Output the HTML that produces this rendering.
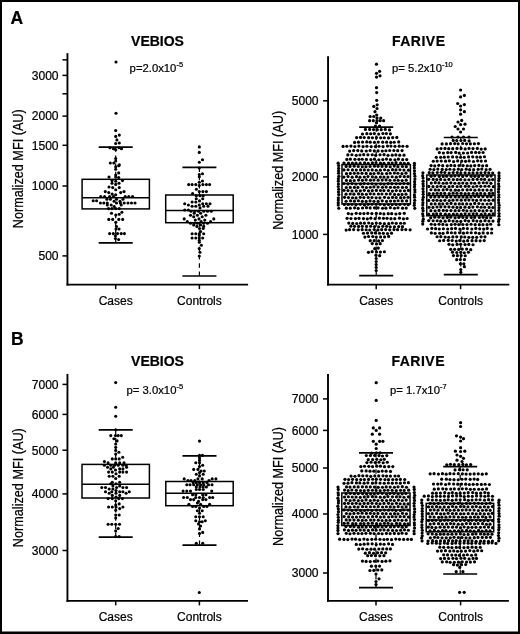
<!DOCTYPE html>
<html><head><meta charset="utf-8"><title>Figure</title><style>html,body{margin:0;padding:0;background:#fff;}body{width:520px;height:634px;overflow:hidden;font-family:"Liberation Sans",sans-serif;}svg{display:block;filter:blur(0.35px);}text{stroke:#000;stroke-width:0.22px;}</style></head><body>
<svg width="520" height="634" viewBox="0 0 520 634">
<rect x="0" y="0" width="520" height="634" fill="#fff"/>
<g font-family="Liberation Sans, sans-serif" fill="#000">
<text x="10.6" y="24.3" font-size="17.5" text-anchor="start" font-weight="bold">A</text>
<text x="10.9" y="344.8" font-size="17.5" text-anchor="start" font-weight="bold">B</text>
<line x1="67.45" y1="53.2" x2="67.45" y2="285.55" stroke="#000" stroke-width="1.9"/>
<line x1="66.5" y1="284.6" x2="248.1" y2="284.6" stroke="#000" stroke-width="1.9"/>
<line x1="62.45" y1="75.4" x2="67.45" y2="75.4" stroke="#000" stroke-width="1.5"/>
<text x="58.6" y="79.7" font-size="12.1" text-anchor="end" font-weight="normal">3000</text>
<line x1="62.45" y1="116.1" x2="67.45" y2="116.1" stroke="#000" stroke-width="1.5"/>
<text x="58.6" y="120.4" font-size="12.1" text-anchor="end" font-weight="normal">2000</text>
<line x1="62.45" y1="145.3" x2="67.45" y2="145.3" stroke="#000" stroke-width="1.5"/>
<text x="58.6" y="149.6" font-size="12.1" text-anchor="end" font-weight="normal">1500</text>
<line x1="62.45" y1="186" x2="67.45" y2="186" stroke="#000" stroke-width="1.5"/>
<text x="58.6" y="190.3" font-size="12.1" text-anchor="end" font-weight="normal">1000</text>
<line x1="62.45" y1="255.9" x2="67.45" y2="255.9" stroke="#000" stroke-width="1.5"/>
<text x="58.6" y="260.2" font-size="12.1" text-anchor="end" font-weight="normal">500</text>
<line x1="62.45" y1="59.85" x2="67.45" y2="59.85" stroke="#000" stroke-width="1.5"/>
<line x1="62.45" y1="93.8" x2="67.45" y2="93.8" stroke="#000" stroke-width="1.5"/>
<line x1="115.7" y1="284.6" x2="115.7" y2="289.1" stroke="#000" stroke-width="1.5"/>
<line x1="199.4" y1="284.6" x2="199.4" y2="289.1" stroke="#000" stroke-width="1.5"/>
<text x="115.7" y="304.6" font-size="12" text-anchor="middle" font-weight="normal">Cases</text>
<text x="199.4" y="304.6" font-size="12" text-anchor="middle" font-weight="normal">Controls</text>
<text x="157.5" y="45.8" font-size="14" text-anchor="middle" font-weight="bold">VEBIOS</text>
<text transform="translate(22.9 168.75) rotate(-90) scale(0.905 1)" font-size="14" text-anchor="middle">Normalized MFI (AU)</text>
<text x="129.6" y="71.9" font-size="11.3">p=2.0x10<tspan font-size="7.46" dy="-5.2">-5</tspan></text>
<line x1="328.05" y1="56.2" x2="328.05" y2="285.6" stroke="#000" stroke-width="1.9"/>
<line x1="327.1" y1="284.65" x2="509.3" y2="284.65" stroke="#000" stroke-width="1.9"/>
<line x1="323.05" y1="100.8" x2="328.05" y2="100.8" stroke="#000" stroke-width="1.5"/>
<text x="318.6" y="105.1" font-size="12.1" text-anchor="end" font-weight="normal">5000</text>
<line x1="323.05" y1="176.9" x2="328.05" y2="176.9" stroke="#000" stroke-width="1.5"/>
<text x="318.6" y="181.2" font-size="12.1" text-anchor="end" font-weight="normal">2000</text>
<line x1="323.05" y1="234.4" x2="328.05" y2="234.4" stroke="#000" stroke-width="1.5"/>
<text x="318.6" y="238.7" font-size="12.1" text-anchor="end" font-weight="normal">1000</text>
<line x1="376.2" y1="284.65" x2="376.2" y2="289.15" stroke="#000" stroke-width="1.5"/>
<line x1="460.6" y1="284.65" x2="460.6" y2="289.15" stroke="#000" stroke-width="1.5"/>
<text x="376.2" y="304.6" font-size="12" text-anchor="middle" font-weight="normal">Cases</text>
<text x="460.6" y="304.6" font-size="12" text-anchor="middle" font-weight="normal">Controls</text>
<text x="418.75" y="45.8" font-size="14" text-anchor="middle" font-weight="bold" letter-spacing="0.5">FARIVE</text>
<text transform="translate(283.3 170.35) rotate(-90) scale(0.905 1)" font-size="14" text-anchor="middle">Normalized MFI (AU)</text>
<text x="392" y="72.2" font-size="11.3">p= 5.2x10<tspan font-size="7.46" dy="-5.2">-10</tspan></text>
<line x1="67.45" y1="373.9" x2="67.45" y2="601.85" stroke="#000" stroke-width="1.9"/>
<line x1="66.5" y1="600.9" x2="248" y2="600.9" stroke="#000" stroke-width="1.9"/>
<line x1="62.45" y1="384.4" x2="67.45" y2="384.4" stroke="#000" stroke-width="1.5"/>
<text x="58.6" y="388.7" font-size="12.1" text-anchor="end" font-weight="normal">7000</text>
<line x1="62.45" y1="414.4" x2="67.45" y2="414.4" stroke="#000" stroke-width="1.5"/>
<text x="58.6" y="418.7" font-size="12.1" text-anchor="end" font-weight="normal">6000</text>
<line x1="62.45" y1="450.2" x2="67.45" y2="450.2" stroke="#000" stroke-width="1.5"/>
<text x="58.6" y="454.5" font-size="12.1" text-anchor="end" font-weight="normal">5000</text>
<line x1="62.45" y1="493.9" x2="67.45" y2="493.9" stroke="#000" stroke-width="1.5"/>
<text x="58.6" y="498.2" font-size="12.1" text-anchor="end" font-weight="normal">4000</text>
<line x1="62.45" y1="550.5" x2="67.45" y2="550.5" stroke="#000" stroke-width="1.5"/>
<text x="58.6" y="554.8" font-size="12.1" text-anchor="end" font-weight="normal">3000</text>
<line x1="115.7" y1="600.9" x2="115.7" y2="605.4" stroke="#000" stroke-width="1.5"/>
<line x1="199.4" y1="600.9" x2="199.4" y2="605.4" stroke="#000" stroke-width="1.5"/>
<text x="115.7" y="620.6" font-size="12" text-anchor="middle" font-weight="normal">Cases</text>
<text x="199.4" y="620.6" font-size="12" text-anchor="middle" font-weight="normal">Controls</text>
<text x="157.5" y="366.4" font-size="14" text-anchor="middle" font-weight="bold">VEBIOS</text>
<text transform="translate(22.9 487.7) rotate(-90) scale(0.905 1)" font-size="14" text-anchor="middle">Normalized MFI (AU)</text>
<text x="126.5" y="394" font-size="11.3">p= 3.0x10<tspan font-size="7.46" dy="-5.2">-5</tspan></text>
<line x1="328" y1="374" x2="328" y2="601.85" stroke="#000" stroke-width="1.9"/>
<line x1="327.05" y1="600.9" x2="508.9" y2="600.9" stroke="#000" stroke-width="1.9"/>
<line x1="323" y1="398.9" x2="328" y2="398.9" stroke="#000" stroke-width="1.5"/>
<text x="318.6" y="403.2" font-size="12.1" text-anchor="end" font-weight="normal">7000</text>
<line x1="323" y1="430.4" x2="328" y2="430.4" stroke="#000" stroke-width="1.5"/>
<text x="318.6" y="434.7" font-size="12.1" text-anchor="end" font-weight="normal">6000</text>
<line x1="323" y1="468" x2="328" y2="468" stroke="#000" stroke-width="1.5"/>
<text x="318.6" y="472.3" font-size="12.1" text-anchor="end" font-weight="normal">5000</text>
<line x1="323" y1="514" x2="328" y2="514" stroke="#000" stroke-width="1.5"/>
<text x="318.6" y="518.3" font-size="12.1" text-anchor="end" font-weight="normal">4000</text>
<line x1="323" y1="573" x2="328" y2="573" stroke="#000" stroke-width="1.5"/>
<text x="318.6" y="577.3" font-size="12.1" text-anchor="end" font-weight="normal">3000</text>
<line x1="376" y1="600.9" x2="376" y2="605.4" stroke="#000" stroke-width="1.5"/>
<line x1="460.6" y1="600.9" x2="460.6" y2="605.4" stroke="#000" stroke-width="1.5"/>
<text x="376" y="620.6" font-size="12" text-anchor="middle" font-weight="normal">Cases</text>
<text x="460.6" y="620.6" font-size="12" text-anchor="middle" font-weight="normal">Controls</text>
<text x="418.25" y="366.3" font-size="14" text-anchor="middle" font-weight="bold" letter-spacing="0.5">FARIVE</text>
<text transform="translate(283.3 486.55) rotate(-90) scale(0.905 1)" font-size="14" text-anchor="middle">Normalized MFI (AU)</text>
<text x="390" y="394" font-size="11.3">p= 1.7x10<tspan font-size="7.46" dy="-5.2">-7</tspan></text>
<line x1="115.7" y1="147.2" x2="115.7" y2="179.3" stroke="#000" stroke-width="1.2" stroke-dasharray="4.6 3.6"/>
<line x1="115.7" y1="242.9" x2="115.7" y2="208.9" stroke="#000" stroke-width="1.2" stroke-dasharray="4.6 3.6"/>
<line x1="199.4" y1="167.4" x2="199.4" y2="195" stroke="#000" stroke-width="1.2" stroke-dasharray="4.6 3.6"/>
<line x1="199.4" y1="276" x2="199.4" y2="222.7" stroke="#000" stroke-width="1.2" stroke-dasharray="4.6 3.6"/>
<line x1="376.2" y1="127.2" x2="376.2" y2="164.6" stroke="#000" stroke-width="1.2" stroke-dasharray="4.6 3.6"/>
<line x1="376.2" y1="275.6" x2="376.2" y2="204" stroke="#000" stroke-width="1.2" stroke-dasharray="4.6 3.6"/>
<line x1="460.8" y1="137.5" x2="460.8" y2="175" stroke="#000" stroke-width="1.2" stroke-dasharray="4.6 3.6"/>
<line x1="460.8" y1="274.6" x2="460.8" y2="215.8" stroke="#000" stroke-width="1.2" stroke-dasharray="4.6 3.6"/>
<line x1="115.7" y1="429.8" x2="115.7" y2="464.4" stroke="#000" stroke-width="1.2" stroke-dasharray="4.6 3.6"/>
<line x1="115.7" y1="537.2" x2="115.7" y2="498" stroke="#000" stroke-width="1.2" stroke-dasharray="4.6 3.6"/>
<line x1="199.5" y1="455.8" x2="199.5" y2="481.5" stroke="#000" stroke-width="1.2" stroke-dasharray="4.6 3.6"/>
<line x1="199.5" y1="545.1" x2="199.5" y2="505.7" stroke="#000" stroke-width="1.2" stroke-dasharray="4.6 3.6"/>
<line x1="376" y1="452.8" x2="376" y2="493" stroke="#000" stroke-width="1.2" stroke-dasharray="4.6 3.6"/>
<line x1="376" y1="587.6" x2="376" y2="525.5" stroke="#000" stroke-width="1.2" stroke-dasharray="4.6 3.6"/>
<line x1="460.2" y1="466.6" x2="460.2" y2="503.4" stroke="#000" stroke-width="1.2" stroke-dasharray="4.6 3.6"/>
<line x1="460.2" y1="574" x2="460.2" y2="531.8" stroke="#000" stroke-width="1.2" stroke-dasharray="4.6 3.6"/>
<g>
<circle cx="116" cy="62" r="1.55"/>
<circle cx="116" cy="113.3" r="1.55"/>
<circle cx="115.7" cy="130.6" r="1.55"/>
<circle cx="119.3" cy="135.1" r="1.55"/>
<circle cx="115.7" cy="136.4" r="1.55"/>
<circle cx="116.9" cy="139.9" r="1.55"/>
<circle cx="119.3" cy="143" r="1.55"/>
<circle cx="115.7" cy="143.5" r="1.55"/>
<circle cx="110" cy="147.8" r="1.55"/>
<circle cx="119" cy="147.8" r="1.55"/>
<circle cx="113.5" cy="148.8" r="1.55"/>
<circle cx="121.5" cy="148.8" r="1.55"/>
<circle cx="115.7" cy="149.8" r="1.55"/>
<circle cx="115.7" cy="158.6" r="1.55"/>
<circle cx="115.7" cy="161" r="1.55"/>
<circle cx="110.3" cy="163" r="1.55"/>
<circle cx="113.8" cy="163" r="1.55"/>
<circle cx="119.3" cy="164.9" r="1.55"/>
<circle cx="118.7" cy="165.8" r="1.55"/>
<circle cx="115.7" cy="166.8" r="1.55"/>
<circle cx="115.7" cy="169.2" r="1.55"/>
<circle cx="118.7" cy="172.9" r="1.55"/>
<circle cx="115.7" cy="175" r="1.55"/>
<circle cx="109" cy="177" r="1.55"/>
<circle cx="115.7" cy="177" r="1.55"/>
<circle cx="118.7" cy="177.6" r="1.55"/>
<circle cx="112" cy="180.6" r="1.55"/>
<circle cx="122.5" cy="180.6" r="1.55"/>
<circle cx="115.7" cy="181.2" r="1.55"/>
<circle cx="112" cy="183.2" r="1.55"/>
<circle cx="119" cy="183.2" r="1.55"/>
<circle cx="115.7" cy="184.4" r="1.55"/>
<circle cx="109" cy="187" r="1.55"/>
<circle cx="112.7" cy="187.6" r="1.55"/>
<circle cx="119.3" cy="187.6" r="1.55"/>
<circle cx="115.7" cy="189.7" r="1.55"/>
<circle cx="105.3" cy="191.6" r="1.55"/>
<circle cx="124" cy="191.6" r="1.55"/>
<circle cx="108.8" cy="192.6" r="1.55"/>
<circle cx="120.7" cy="192.6" r="1.55"/>
<circle cx="112.2" cy="194.1" r="1.55"/>
<circle cx="115.7" cy="194.8" r="1.55"/>
<circle cx="100.8" cy="196.5" r="1.55"/>
<circle cx="104.6" cy="196.5" r="1.55"/>
<circle cx="109.6" cy="196.5" r="1.55"/>
<circle cx="113.5" cy="196.5" r="1.55"/>
<circle cx="125.2" cy="196.5" r="1.55"/>
<circle cx="128.8" cy="196.5" r="1.55"/>
<circle cx="132.6" cy="196.5" r="1.55"/>
<circle cx="106.9" cy="199.2" r="1.55"/>
<circle cx="110.4" cy="199.2" r="1.55"/>
<circle cx="116.5" cy="199.2" r="1.55"/>
<circle cx="123" cy="199.2" r="1.55"/>
<circle cx="93.2" cy="200.8" r="1.55"/>
<circle cx="96.6" cy="200.8" r="1.55"/>
<circle cx="114.1" cy="201.2" r="1.55"/>
<circle cx="120" cy="201.2" r="1.55"/>
<circle cx="100.4" cy="203" r="1.55"/>
<circle cx="103.8" cy="203" r="1.55"/>
<circle cx="107.3" cy="203" r="1.55"/>
<circle cx="116.5" cy="203" r="1.55"/>
<circle cx="120.4" cy="203" r="1.55"/>
<circle cx="124.2" cy="203" r="1.55"/>
<circle cx="128" cy="203" r="1.55"/>
<circle cx="131.5" cy="203" r="1.55"/>
<circle cx="135" cy="203" r="1.55"/>
<circle cx="107.3" cy="205" r="1.55"/>
<circle cx="111.2" cy="205" r="1.55"/>
<circle cx="121.2" cy="205" r="1.55"/>
<circle cx="114.2" cy="206.5" r="1.55"/>
<circle cx="108.5" cy="208.6" r="1.55"/>
<circle cx="111.9" cy="208.6" r="1.55"/>
<circle cx="115.8" cy="208.6" r="1.55"/>
<circle cx="119.2" cy="208.6" r="1.55"/>
<circle cx="121.9" cy="212.3" r="1.55"/>
<circle cx="111.5" cy="213.2" r="1.55"/>
<circle cx="119.2" cy="214.2" r="1.55"/>
<circle cx="115.8" cy="215" r="1.55"/>
<circle cx="108.8" cy="219.4" r="1.55"/>
<circle cx="112.7" cy="219.4" r="1.55"/>
<circle cx="118.8" cy="219.4" r="1.55"/>
<circle cx="122.7" cy="219.4" r="1.55"/>
<circle cx="115.8" cy="222.3" r="1.55"/>
<circle cx="116.5" cy="226.5" r="1.55"/>
<circle cx="116" cy="229" r="1.55"/>
<circle cx="119" cy="229" r="1.55"/>
<circle cx="109.6" cy="233.6" r="1.55"/>
<circle cx="113.3" cy="233.6" r="1.55"/>
<circle cx="117.5" cy="233.6" r="1.55"/>
<circle cx="121.2" cy="233.6" r="1.55"/>
<circle cx="124.4" cy="233.6" r="1.55"/>
<circle cx="115.4" cy="235.8" r="1.55"/>
<circle cx="115.4" cy="238.5" r="1.55"/>
<circle cx="118.6" cy="239.6" r="1.55"/>
<circle cx="199.3" cy="146.9" r="1.55"/>
<circle cx="199.3" cy="152.4" r="1.55"/>
<circle cx="202.5" cy="159.8" r="1.55"/>
<circle cx="199.3" cy="162.2" r="1.55"/>
<circle cx="199.3" cy="168" r="1.55"/>
<circle cx="202.5" cy="173.8" r="1.55"/>
<circle cx="199.3" cy="174.6" r="1.55"/>
<circle cx="199.3" cy="176.8" r="1.55"/>
<circle cx="202.5" cy="181" r="1.55"/>
<circle cx="199.3" cy="182.3" r="1.55"/>
<circle cx="188.7" cy="184.6" r="1.55"/>
<circle cx="192.1" cy="184.6" r="1.55"/>
<circle cx="195.8" cy="184.6" r="1.55"/>
<circle cx="202.9" cy="184.6" r="1.55"/>
<circle cx="206.4" cy="184.6" r="1.55"/>
<circle cx="209.6" cy="184.6" r="1.55"/>
<circle cx="199.3" cy="185.6" r="1.55"/>
<circle cx="196.4" cy="189.3" r="1.55"/>
<circle cx="199.3" cy="191.6" r="1.55"/>
<circle cx="202.9" cy="191.6" r="1.55"/>
<circle cx="206.4" cy="191.6" r="1.55"/>
<circle cx="192.6" cy="193.5" r="1.55"/>
<circle cx="196.3" cy="195.8" r="1.55"/>
<circle cx="200" cy="195.8" r="1.55"/>
<circle cx="203.2" cy="195.8" r="1.55"/>
<circle cx="196.3" cy="198.8" r="1.55"/>
<circle cx="202.7" cy="198.8" r="1.55"/>
<circle cx="199.5" cy="200.9" r="1.55"/>
<circle cx="192.1" cy="202" r="1.55"/>
<circle cx="195.8" cy="202" r="1.55"/>
<circle cx="184.7" cy="203.8" r="1.55"/>
<circle cx="202.7" cy="203.8" r="1.55"/>
<circle cx="206.4" cy="203.8" r="1.55"/>
<circle cx="210" cy="203.8" r="1.55"/>
<circle cx="188.4" cy="205" r="1.55"/>
<circle cx="199.3" cy="205" r="1.55"/>
<circle cx="192.1" cy="206.3" r="1.55"/>
<circle cx="195.8" cy="206.3" r="1.55"/>
<circle cx="203.7" cy="206.3" r="1.55"/>
<circle cx="208" cy="206.3" r="1.55"/>
<circle cx="200" cy="207.9" r="1.55"/>
<circle cx="184.7" cy="210" r="1.55"/>
<circle cx="188.4" cy="210" r="1.55"/>
<circle cx="191" cy="211.2" r="1.55"/>
<circle cx="194.8" cy="211.2" r="1.55"/>
<circle cx="198.5" cy="211.2" r="1.55"/>
<circle cx="203.7" cy="211.2" r="1.55"/>
<circle cx="207.5" cy="211.2" r="1.55"/>
<circle cx="211.2" cy="211.2" r="1.55"/>
<circle cx="194.2" cy="213.2" r="1.55"/>
<circle cx="200.6" cy="213.2" r="1.55"/>
<circle cx="190.5" cy="215.2" r="1.55"/>
<circle cx="197.4" cy="215.2" r="1.55"/>
<circle cx="205.9" cy="215.2" r="1.55"/>
<circle cx="193.7" cy="216.8" r="1.55"/>
<circle cx="202.2" cy="216.8" r="1.55"/>
<circle cx="184.2" cy="218.9" r="1.55"/>
<circle cx="199" cy="218.9" r="1.55"/>
<circle cx="213.8" cy="218.9" r="1.55"/>
<circle cx="195.3" cy="220.1" r="1.55"/>
<circle cx="204.8" cy="220.1" r="1.55"/>
<circle cx="187.3" cy="221.6" r="1.55"/>
<circle cx="201.1" cy="221.6" r="1.55"/>
<circle cx="210.6" cy="221.6" r="1.55"/>
<circle cx="190.5" cy="223.2" r="1.55"/>
<circle cx="194.2" cy="223.2" r="1.55"/>
<circle cx="197.4" cy="223.2" r="1.55"/>
<circle cx="203.7" cy="223.2" r="1.55"/>
<circle cx="207.5" cy="223.2" r="1.55"/>
<circle cx="193.7" cy="224.9" r="1.55"/>
<circle cx="200.6" cy="224.9" r="1.55"/>
<circle cx="196.9" cy="226.4" r="1.55"/>
<circle cx="203.7" cy="226.4" r="1.55"/>
<circle cx="199.5" cy="228.5" r="1.55"/>
<circle cx="203.2" cy="228.5" r="1.55"/>
<circle cx="200.6" cy="231.6" r="1.55"/>
<circle cx="192.1" cy="233.8" r="1.55"/>
<circle cx="195.8" cy="233.8" r="1.55"/>
<circle cx="199.3" cy="233.8" r="1.55"/>
<circle cx="203.7" cy="233.8" r="1.55"/>
<circle cx="199.3" cy="235.5" r="1.55"/>
<circle cx="192.1" cy="238" r="1.55"/>
<circle cx="195.8" cy="238" r="1.55"/>
<circle cx="199.3" cy="238" r="1.55"/>
<circle cx="202.7" cy="238" r="1.55"/>
<circle cx="199.3" cy="240.2" r="1.55"/>
<circle cx="199.3" cy="242.3" r="1.55"/>
<circle cx="201.4" cy="245.3" r="1.55"/>
<circle cx="199.3" cy="248.6" r="1.55"/>
<circle cx="200" cy="252.2" r="1.55"/>
<circle cx="199.3" cy="256" r="1.55"/>
<circle cx="115.7" cy="382.6" r="1.55"/>
<circle cx="115.7" cy="407.3" r="1.55"/>
<circle cx="115.7" cy="416.3" r="1.55"/>
<circle cx="115.7" cy="429.8" r="1.55"/>
<circle cx="110.8" cy="435.6" r="1.55"/>
<circle cx="115.5" cy="435.6" r="1.55"/>
<circle cx="118.2" cy="435.6" r="1.55"/>
<circle cx="121.3" cy="435.6" r="1.55"/>
<circle cx="113.9" cy="438.8" r="1.55"/>
<circle cx="117.1" cy="440.9" r="1.55"/>
<circle cx="115.7" cy="444" r="1.55"/>
<circle cx="115.7" cy="447.2" r="1.55"/>
<circle cx="115.7" cy="450.4" r="1.55"/>
<circle cx="118.9" cy="452.3" r="1.55"/>
<circle cx="115.7" cy="454.1" r="1.55"/>
<circle cx="122.7" cy="457.3" r="1.55"/>
<circle cx="112.3" cy="458.9" r="1.55"/>
<circle cx="115.7" cy="458.9" r="1.55"/>
<circle cx="119.2" cy="458.9" r="1.55"/>
<circle cx="104.4" cy="461.5" r="1.55"/>
<circle cx="108.1" cy="462.9" r="1.55"/>
<circle cx="115.7" cy="462.9" r="1.55"/>
<circle cx="119.7" cy="462.9" r="1.55"/>
<circle cx="124" cy="462.9" r="1.55"/>
<circle cx="104.4" cy="465.2" r="1.55"/>
<circle cx="110.8" cy="465.2" r="1.55"/>
<circle cx="114.5" cy="465.2" r="1.55"/>
<circle cx="118.2" cy="465.2" r="1.55"/>
<circle cx="122.9" cy="465.2" r="1.55"/>
<circle cx="126.1" cy="465.2" r="1.55"/>
<circle cx="107.6" cy="467.3" r="1.55"/>
<circle cx="113.4" cy="467.3" r="1.55"/>
<circle cx="126.6" cy="467.3" r="1.55"/>
<circle cx="110.8" cy="468.9" r="1.55"/>
<circle cx="119.7" cy="468.9" r="1.55"/>
<circle cx="122.9" cy="468.9" r="1.55"/>
<circle cx="115.5" cy="470" r="1.55"/>
<circle cx="108.6" cy="472.1" r="1.55"/>
<circle cx="112.3" cy="472.1" r="1.55"/>
<circle cx="119.7" cy="472.1" r="1.55"/>
<circle cx="122.9" cy="472.1" r="1.55"/>
<circle cx="126.6" cy="472.1" r="1.55"/>
<circle cx="116" cy="473.7" r="1.55"/>
<circle cx="109.2" cy="476.3" r="1.55"/>
<circle cx="112.9" cy="476.3" r="1.55"/>
<circle cx="119.2" cy="476.3" r="1.55"/>
<circle cx="115.7" cy="478.5" r="1.55"/>
<circle cx="112.3" cy="482.2" r="1.55"/>
<circle cx="119.7" cy="482.2" r="1.55"/>
<circle cx="110.8" cy="483.8" r="1.55"/>
<circle cx="116" cy="483.8" r="1.55"/>
<circle cx="112.9" cy="485.9" r="1.55"/>
<circle cx="119.7" cy="485.9" r="1.55"/>
<circle cx="101.8" cy="487.5" r="1.55"/>
<circle cx="105.5" cy="487.5" r="1.55"/>
<circle cx="116.6" cy="487.5" r="1.55"/>
<circle cx="122.9" cy="487.5" r="1.55"/>
<circle cx="126.6" cy="487.5" r="1.55"/>
<circle cx="109.2" cy="489" r="1.55"/>
<circle cx="112.9" cy="489" r="1.55"/>
<circle cx="116" cy="490.6" r="1.55"/>
<circle cx="105.5" cy="491.7" r="1.55"/>
<circle cx="111.8" cy="491.7" r="1.55"/>
<circle cx="119.7" cy="491.7" r="1.55"/>
<circle cx="122.9" cy="491.7" r="1.55"/>
<circle cx="129.3" cy="491.7" r="1.55"/>
<circle cx="109.2" cy="493.3" r="1.55"/>
<circle cx="116" cy="493.3" r="1.55"/>
<circle cx="126.1" cy="493.3" r="1.55"/>
<circle cx="112.3" cy="495.4" r="1.55"/>
<circle cx="119.7" cy="495.4" r="1.55"/>
<circle cx="116" cy="497" r="1.55"/>
<circle cx="108.1" cy="498.6" r="1.55"/>
<circle cx="112.3" cy="498.6" r="1.55"/>
<circle cx="118.7" cy="498.6" r="1.55"/>
<circle cx="122.4" cy="498.6" r="1.55"/>
<circle cx="115.7" cy="500.7" r="1.55"/>
<circle cx="119.2" cy="503.9" r="1.55"/>
<circle cx="115.7" cy="505" r="1.55"/>
<circle cx="108.6" cy="507" r="1.55"/>
<circle cx="112.3" cy="507" r="1.55"/>
<circle cx="116" cy="507" r="1.55"/>
<circle cx="122.9" cy="507" r="1.55"/>
<circle cx="119.7" cy="508.6" r="1.55"/>
<circle cx="115.7" cy="510.2" r="1.55"/>
<circle cx="115.7" cy="515" r="1.55"/>
<circle cx="119.2" cy="515" r="1.55"/>
<circle cx="115.7" cy="518" r="1.55"/>
<circle cx="108.1" cy="524.2" r="1.55"/>
<circle cx="111.8" cy="524.2" r="1.55"/>
<circle cx="115.7" cy="524.2" r="1.55"/>
<circle cx="119.5" cy="524.2" r="1.55"/>
<circle cx="118.2" cy="528.5" r="1.55"/>
<circle cx="115.7" cy="530.9" r="1.55"/>
<circle cx="115.7" cy="536.6" r="1.55"/>
<circle cx="119.2" cy="536.6" r="1.55"/>
<circle cx="199.5" cy="441.1" r="1.55"/>
<circle cx="199.5" cy="455.4" r="1.55"/>
<circle cx="202.5" cy="455.4" r="1.55"/>
<circle cx="199.5" cy="458" r="1.55"/>
<circle cx="199.5" cy="460.4" r="1.55"/>
<circle cx="195.8" cy="462.7" r="1.55"/>
<circle cx="199.5" cy="462.7" r="1.55"/>
<circle cx="202.7" cy="465.2" r="1.55"/>
<circle cx="199.5" cy="466.5" r="1.55"/>
<circle cx="193.7" cy="469.4" r="1.55"/>
<circle cx="197.9" cy="469.4" r="1.55"/>
<circle cx="201.1" cy="471" r="1.55"/>
<circle cx="204.3" cy="471" r="1.55"/>
<circle cx="199.5" cy="472.6" r="1.55"/>
<circle cx="196.3" cy="474.2" r="1.55"/>
<circle cx="203.2" cy="474.2" r="1.55"/>
<circle cx="199.5" cy="475.9" r="1.55"/>
<circle cx="184.2" cy="478.9" r="1.55"/>
<circle cx="197.9" cy="478.9" r="1.55"/>
<circle cx="202.2" cy="478.9" r="1.55"/>
<circle cx="212.2" cy="478.9" r="1.55"/>
<circle cx="215.9" cy="478.9" r="1.55"/>
<circle cx="187.9" cy="480.5" r="1.55"/>
<circle cx="191" cy="480.5" r="1.55"/>
<circle cx="194.8" cy="480.5" r="1.55"/>
<circle cx="209" cy="480.5" r="1.55"/>
<circle cx="193.2" cy="482.6" r="1.55"/>
<circle cx="196.3" cy="482.6" r="1.55"/>
<circle cx="199.5" cy="482.6" r="1.55"/>
<circle cx="203.2" cy="482.6" r="1.55"/>
<circle cx="206.9" cy="482.6" r="1.55"/>
<circle cx="186.8" cy="484.8" r="1.55"/>
<circle cx="190" cy="484.8" r="1.55"/>
<circle cx="193.7" cy="484.8" r="1.55"/>
<circle cx="197.4" cy="484.8" r="1.55"/>
<circle cx="200.6" cy="484.8" r="1.55"/>
<circle cx="203.7" cy="484.8" r="1.55"/>
<circle cx="208.5" cy="484.8" r="1.55"/>
<circle cx="212" cy="484.8" r="1.55"/>
<circle cx="196.3" cy="486.9" r="1.55"/>
<circle cx="200" cy="486.9" r="1.55"/>
<circle cx="203.2" cy="486.9" r="1.55"/>
<circle cx="206.4" cy="486.9" r="1.55"/>
<circle cx="196.3" cy="489.5" r="1.55"/>
<circle cx="199.5" cy="489.5" r="1.55"/>
<circle cx="203.2" cy="489.5" r="1.55"/>
<circle cx="183.1" cy="491.1" r="1.55"/>
<circle cx="186.8" cy="491.1" r="1.55"/>
<circle cx="190.5" cy="491.1" r="1.55"/>
<circle cx="211.7" cy="491.1" r="1.55"/>
<circle cx="192.6" cy="494.8" r="1.55"/>
<circle cx="195.8" cy="494.8" r="1.55"/>
<circle cx="202.7" cy="494.8" r="1.55"/>
<circle cx="205.9" cy="494.8" r="1.55"/>
<circle cx="183.6" cy="497.5" r="1.55"/>
<circle cx="187.3" cy="497.5" r="1.55"/>
<circle cx="195.8" cy="497.5" r="1.55"/>
<circle cx="199.5" cy="497.5" r="1.55"/>
<circle cx="203.2" cy="497.5" r="1.55"/>
<circle cx="209.6" cy="497.5" r="1.55"/>
<circle cx="212.7" cy="497.5" r="1.55"/>
<circle cx="190.5" cy="499.6" r="1.55"/>
<circle cx="193.7" cy="499.6" r="1.55"/>
<circle cx="202.7" cy="499.6" r="1.55"/>
<circle cx="205.9" cy="499.6" r="1.55"/>
<circle cx="198.5" cy="501.4" r="1.55"/>
<circle cx="197.4" cy="503" r="1.55"/>
<circle cx="188.9" cy="504.3" r="1.55"/>
<circle cx="200.6" cy="504.3" r="1.55"/>
<circle cx="209.6" cy="504.3" r="1.55"/>
<circle cx="192.6" cy="506.5" r="1.55"/>
<circle cx="195.8" cy="506.5" r="1.55"/>
<circle cx="203.7" cy="506.5" r="1.55"/>
<circle cx="206.9" cy="506.5" r="1.55"/>
<circle cx="199.5" cy="508" r="1.55"/>
<circle cx="197.4" cy="510.7" r="1.55"/>
<circle cx="202.2" cy="510.7" r="1.55"/>
<circle cx="199.5" cy="513.3" r="1.55"/>
<circle cx="195.8" cy="516.8" r="1.55"/>
<circle cx="199.5" cy="516.8" r="1.55"/>
<circle cx="203.2" cy="516.8" r="1.55"/>
<circle cx="195.8" cy="520.7" r="1.55"/>
<circle cx="205.3" cy="520.7" r="1.55"/>
<circle cx="199.5" cy="521.8" r="1.55"/>
<circle cx="202.2" cy="521.8" r="1.55"/>
<circle cx="198.5" cy="523.9" r="1.55"/>
<circle cx="200.6" cy="526" r="1.55"/>
<circle cx="199.5" cy="528.9" r="1.55"/>
<circle cx="202.7" cy="532.4" r="1.55"/>
<circle cx="199.5" cy="533.6" r="1.55"/>
<circle cx="196.3" cy="543.2" r="1.55"/>
<circle cx="202.7" cy="543.2" r="1.55"/>
<circle cx="199.3" cy="592.5" r="1.55"/>
<circle cx="376.5" cy="64.2" r="1.6"/>
<circle cx="379.6" cy="71.3" r="1.6"/>
<circle cx="376.5" cy="73.3" r="1.6"/>
<circle cx="380" cy="75.8" r="1.6"/>
<circle cx="376.5" cy="77.1" r="1.6"/>
<circle cx="376.5" cy="87.7" r="1.6"/>
<circle cx="376.7" cy="92.6" r="1.6"/>
<circle cx="376.7" cy="100.3" r="1.6"/>
<circle cx="377.2" cy="104.8" r="1.6"/>
<circle cx="373.8" cy="106.4" r="1.6"/>
<circle cx="377" cy="108.5" r="1.6"/>
<circle cx="375" cy="111.7" r="1.6"/>
<circle cx="376.7" cy="115.1" r="1.6"/>
<circle cx="370.1" cy="116.5" r="1.6"/>
<circle cx="373.8" cy="116.5" r="1.6"/>
<circle cx="377" cy="118" r="1.6"/>
<circle cx="380.7" cy="118" r="1.6"/>
<circle cx="369.6" cy="120.7" r="1.6"/>
<circle cx="373.3" cy="120.7" r="1.6"/>
<circle cx="377" cy="120.7" r="1.6"/>
<circle cx="380.2" cy="120.7" r="1.6"/>
<circle cx="383.6" cy="120.7" r="1.6"/>
<circle cx="376.5" cy="122.8" r="1.6"/>
<circle cx="375.4" cy="126" r="1.6"/>
<circle cx="379.6" cy="126" r="1.6"/>
<circle cx="376.2" cy="258.5" r="1.6"/>
<circle cx="376.2" cy="261.5" r="1.6"/>
<circle cx="376.2" cy="264.5" r="1.6"/>
<circle cx="376.2" cy="267.5" r="1.6"/>
<circle cx="376.2" cy="270.5" r="1.6"/>
<circle cx="365.43" cy="129.46" r="1.6"/>
<circle cx="369.66" cy="129.4" r="1.6"/>
<circle cx="373.58" cy="129.61" r="1.6"/>
<circle cx="377.24" cy="129.71" r="1.6"/>
<circle cx="381.23" cy="129.65" r="1.6"/>
<circle cx="385.25" cy="129.41" r="1.6"/>
<circle cx="389.5" cy="129.93" r="1.6"/>
<circle cx="374.34" cy="133.61" r="1.6"/>
<circle cx="378.69" cy="134.11" r="1.6"/>
<circle cx="370.65" cy="133.73" r="1.6"/>
<circle cx="382.93" cy="133.48" r="1.6"/>
<circle cx="366.85" cy="133.65" r="1.6"/>
<circle cx="386.35" cy="133.53" r="1.6"/>
<circle cx="362.47" cy="134.02" r="1.6"/>
<circle cx="390.38" cy="133.86" r="1.6"/>
<circle cx="356.6" cy="137.61" r="1.6"/>
<circle cx="360.53" cy="137.39" r="1.6"/>
<circle cx="364.19" cy="137.49" r="1.6"/>
<circle cx="368.63" cy="137.65" r="1.6"/>
<circle cx="372.37" cy="137.76" r="1.6"/>
<circle cx="376.47" cy="137.56" r="1.6"/>
<circle cx="380.71" cy="137.84" r="1.6"/>
<circle cx="384.32" cy="137.75" r="1.6"/>
<circle cx="388.52" cy="137.96" r="1.6"/>
<circle cx="392.66" cy="137.55" r="1.6"/>
<circle cx="396.84" cy="137.43" r="1.6"/>
<circle cx="374.44" cy="142.28" r="1.6"/>
<circle cx="378.26" cy="142.09" r="1.6"/>
<circle cx="370.18" cy="142.22" r="1.6"/>
<circle cx="382.69" cy="142.15" r="1.6"/>
<circle cx="366.76" cy="141.97" r="1.6"/>
<circle cx="386.64" cy="142.17" r="1.6"/>
<circle cx="362.56" cy="142.07" r="1.6"/>
<circle cx="390.74" cy="142.41" r="1.6"/>
<circle cx="358.48" cy="142.21" r="1.6"/>
<circle cx="394.19" cy="142.24" r="1.6"/>
<circle cx="354.6" cy="142.45" r="1.6"/>
<circle cx="398.73" cy="141.95" r="1.6"/>
<circle cx="343.07" cy="146.42" r="1.6"/>
<circle cx="346.82" cy="146.27" r="1.6"/>
<circle cx="350.92" cy="146.03" r="1.6"/>
<circle cx="354.84" cy="146.49" r="1.6"/>
<circle cx="358.89" cy="146.12" r="1.6"/>
<circle cx="363.07" cy="146.56" r="1.6"/>
<circle cx="366.86" cy="146.26" r="1.6"/>
<circle cx="371.18" cy="146.57" r="1.6"/>
<circle cx="375.37" cy="146.55" r="1.6"/>
<circle cx="378.99" cy="146.24" r="1.6"/>
<circle cx="383.05" cy="146.57" r="1.6"/>
<circle cx="387.47" cy="146.06" r="1.6"/>
<circle cx="390.92" cy="146.11" r="1.6"/>
<circle cx="394.96" cy="146.29" r="1.6"/>
<circle cx="399.21" cy="146.13" r="1.6"/>
<circle cx="402.8" cy="146.24" r="1.6"/>
<circle cx="407.06" cy="146.35" r="1.6"/>
<circle cx="374.32" cy="150.93" r="1.6"/>
<circle cx="378.01" cy="150.88" r="1.6"/>
<circle cx="370.12" cy="150.49" r="1.6"/>
<circle cx="382.28" cy="151" r="1.6"/>
<circle cx="366.26" cy="151.01" r="1.6"/>
<circle cx="385.92" cy="150.73" r="1.6"/>
<circle cx="361.72" cy="150.89" r="1.6"/>
<circle cx="389.69" cy="150.5" r="1.6"/>
<circle cx="357.8" cy="150.56" r="1.6"/>
<circle cx="393.89" cy="150.49" r="1.6"/>
<circle cx="353.65" cy="150.56" r="1.6"/>
<circle cx="397.72" cy="150.7" r="1.6"/>
<circle cx="349.67" cy="151.06" r="1.6"/>
<circle cx="402.08" cy="150.55" r="1.6"/>
<circle cx="347.83" cy="154.89" r="1.6"/>
<circle cx="351.9" cy="154.74" r="1.6"/>
<circle cx="356.24" cy="155.35" r="1.6"/>
<circle cx="359.98" cy="154.99" r="1.6"/>
<circle cx="363.71" cy="154.72" r="1.6"/>
<circle cx="367.89" cy="154.84" r="1.6"/>
<circle cx="372.23" cy="154.76" r="1.6"/>
<circle cx="375.67" cy="155.32" r="1.6"/>
<circle cx="380.02" cy="154.75" r="1.6"/>
<circle cx="384.03" cy="154.67" r="1.6"/>
<circle cx="388.02" cy="155.33" r="1.6"/>
<circle cx="392.25" cy="155.14" r="1.6"/>
<circle cx="395.83" cy="154.91" r="1.6"/>
<circle cx="399.77" cy="155.19" r="1.6"/>
<circle cx="404.02" cy="155.2" r="1.6"/>
<circle cx="374.48" cy="159.21" r="1.6"/>
<circle cx="378.82" cy="159.74" r="1.6"/>
<circle cx="370.85" cy="159.61" r="1.6"/>
<circle cx="382.82" cy="159.57" r="1.6"/>
<circle cx="366.41" cy="159.41" r="1.6"/>
<circle cx="386.5" cy="159.07" r="1.6"/>
<circle cx="362.27" cy="159.25" r="1.6"/>
<circle cx="390.43" cy="159.53" r="1.6"/>
<circle cx="358.92" cy="159.36" r="1.6"/>
<circle cx="394.91" cy="159.74" r="1.6"/>
<circle cx="354.92" cy="159.31" r="1.6"/>
<circle cx="398.4" cy="159.21" r="1.6"/>
<circle cx="350.39" cy="159.19" r="1.6"/>
<circle cx="402.69" cy="159.68" r="1.6"/>
<circle cx="346.84" cy="159.39" r="1.6"/>
<circle cx="406.71" cy="159.61" r="1.6"/>
<circle cx="343.96" cy="163.11" r="1.6"/>
<circle cx="348.54" cy="163.2" r="1.6"/>
<circle cx="352.43" cy="162.98" r="1.6"/>
<circle cx="356.02" cy="163.2" r="1.6"/>
<circle cx="360.13" cy="163.21" r="1.6"/>
<circle cx="364.58" cy="162.93" r="1.6"/>
<circle cx="368.18" cy="163.31" r="1.6"/>
<circle cx="372.41" cy="162.77" r="1.6"/>
<circle cx="375.99" cy="162.76" r="1.6"/>
<circle cx="380.53" cy="163.21" r="1.6"/>
<circle cx="384" cy="163.23" r="1.6"/>
<circle cx="388.59" cy="163.11" r="1.6"/>
<circle cx="392.15" cy="163.03" r="1.6"/>
<circle cx="395.99" cy="162.66" r="1.6"/>
<circle cx="400.58" cy="163.1" r="1.6"/>
<circle cx="404.27" cy="163.3" r="1.6"/>
<circle cx="408.2" cy="163.26" r="1.6"/>
<circle cx="374.48" cy="166.26" r="1.6"/>
<circle cx="378.08" cy="166.32" r="1.6"/>
<circle cx="370.07" cy="166.52" r="1.6"/>
<circle cx="382.08" cy="166.4" r="1.6"/>
<circle cx="365.99" cy="166.75" r="1.6"/>
<circle cx="386.15" cy="166.43" r="1.6"/>
<circle cx="362.31" cy="166.74" r="1.6"/>
<circle cx="390.19" cy="166.75" r="1.6"/>
<circle cx="358.25" cy="166.48" r="1.6"/>
<circle cx="394.27" cy="166.12" r="1.6"/>
<circle cx="354.21" cy="166.24" r="1.6"/>
<circle cx="397.9" cy="166.67" r="1.6"/>
<circle cx="350.02" cy="166.44" r="1.6"/>
<circle cx="402.41" cy="166.5" r="1.6"/>
<circle cx="346.13" cy="166.47" r="1.6"/>
<circle cx="406.29" cy="166.66" r="1.6"/>
<circle cx="343.97" cy="169.97" r="1.6"/>
<circle cx="348.07" cy="169.77" r="1.6"/>
<circle cx="352.44" cy="169.93" r="1.6"/>
<circle cx="356.29" cy="170.11" r="1.6"/>
<circle cx="360.54" cy="169.88" r="1.6"/>
<circle cx="364.33" cy="169.93" r="1.6"/>
<circle cx="368.26" cy="170.06" r="1.6"/>
<circle cx="372.22" cy="169.95" r="1.6"/>
<circle cx="376.23" cy="170.23" r="1.6"/>
<circle cx="380.39" cy="170.19" r="1.6"/>
<circle cx="384.56" cy="169.75" r="1.6"/>
<circle cx="388.29" cy="170.23" r="1.6"/>
<circle cx="392.49" cy="169.67" r="1.6"/>
<circle cx="395.99" cy="169.88" r="1.6"/>
<circle cx="399.95" cy="169.74" r="1.6"/>
<circle cx="403.95" cy="170.04" r="1.6"/>
<circle cx="408.45" cy="170.2" r="1.6"/>
<circle cx="374.01" cy="173.54" r="1.6"/>
<circle cx="378.36" cy="173.13" r="1.6"/>
<circle cx="370.52" cy="173.71" r="1.6"/>
<circle cx="382.05" cy="173.7" r="1.6"/>
<circle cx="366.18" cy="173.38" r="1.6"/>
<circle cx="386.59" cy="173.62" r="1.6"/>
<circle cx="362.01" cy="173.34" r="1.6"/>
<circle cx="390.26" cy="173.27" r="1.6"/>
<circle cx="358.04" cy="173.26" r="1.6"/>
<circle cx="394.41" cy="173.05" r="1.6"/>
<circle cx="354.29" cy="173.34" r="1.6"/>
<circle cx="397.91" cy="173.27" r="1.6"/>
<circle cx="350.34" cy="173.39" r="1.6"/>
<circle cx="401.95" cy="173.72" r="1.6"/>
<circle cx="346.45" cy="173.71" r="1.6"/>
<circle cx="405.97" cy="173.22" r="1.6"/>
<circle cx="343.93" cy="177.04" r="1.6"/>
<circle cx="348.09" cy="176.59" r="1.6"/>
<circle cx="352.2" cy="177.13" r="1.6"/>
<circle cx="356.47" cy="176.68" r="1.6"/>
<circle cx="360" cy="177.14" r="1.6"/>
<circle cx="364.3" cy="176.99" r="1.6"/>
<circle cx="367.96" cy="176.54" r="1.6"/>
<circle cx="372.38" cy="176.79" r="1.6"/>
<circle cx="375.95" cy="177.15" r="1.6"/>
<circle cx="380.34" cy="177.06" r="1.6"/>
<circle cx="383.96" cy="177.1" r="1.6"/>
<circle cx="387.95" cy="177.1" r="1.6"/>
<circle cx="392.22" cy="176.73" r="1.6"/>
<circle cx="396.29" cy="177.14" r="1.6"/>
<circle cx="400.09" cy="176.59" r="1.6"/>
<circle cx="404.27" cy="176.66" r="1.6"/>
<circle cx="407.98" cy="176.61" r="1.6"/>
<circle cx="373.94" cy="180.1" r="1.6"/>
<circle cx="378.12" cy="180.17" r="1.6"/>
<circle cx="370.43" cy="180.16" r="1.6"/>
<circle cx="382.25" cy="180.08" r="1.6"/>
<circle cx="366.14" cy="179.97" r="1.6"/>
<circle cx="386.08" cy="179.97" r="1.6"/>
<circle cx="362.41" cy="180.34" r="1.6"/>
<circle cx="390.03" cy="180.29" r="1.6"/>
<circle cx="358.55" cy="180.03" r="1.6"/>
<circle cx="394.47" cy="180.26" r="1.6"/>
<circle cx="354.25" cy="180.54" r="1.6"/>
<circle cx="398.18" cy="180.31" r="1.6"/>
<circle cx="350.38" cy="180.65" r="1.6"/>
<circle cx="402.14" cy="180.54" r="1.6"/>
<circle cx="346.39" cy="180.4" r="1.6"/>
<circle cx="406.18" cy="180.2" r="1.6"/>
<circle cx="343.94" cy="183.51" r="1.6"/>
<circle cx="347.95" cy="183.94" r="1.6"/>
<circle cx="352.08" cy="183.53" r="1.6"/>
<circle cx="355.96" cy="184.01" r="1.6"/>
<circle cx="360.51" cy="183.89" r="1.6"/>
<circle cx="364.1" cy="183.59" r="1.6"/>
<circle cx="368.11" cy="183.74" r="1.6"/>
<circle cx="372.01" cy="183.73" r="1.6"/>
<circle cx="376.08" cy="184.09" r="1.6"/>
<circle cx="380.58" cy="183.8" r="1.6"/>
<circle cx="384.07" cy="184.1" r="1.6"/>
<circle cx="388.12" cy="183.67" r="1.6"/>
<circle cx="391.9" cy="183.69" r="1.6"/>
<circle cx="396.23" cy="183.77" r="1.6"/>
<circle cx="400.04" cy="183.77" r="1.6"/>
<circle cx="403.9" cy="183.6" r="1.6"/>
<circle cx="407.96" cy="183.7" r="1.6"/>
<circle cx="373.93" cy="186.9" r="1.6"/>
<circle cx="378.11" cy="187.04" r="1.6"/>
<circle cx="370.31" cy="187.25" r="1.6"/>
<circle cx="382.43" cy="187.34" r="1.6"/>
<circle cx="366.4" cy="187.5" r="1.6"/>
<circle cx="386.17" cy="187.11" r="1.6"/>
<circle cx="362.59" cy="186.99" r="1.6"/>
<circle cx="390.41" cy="187.33" r="1.6"/>
<circle cx="357.93" cy="187.47" r="1.6"/>
<circle cx="394.52" cy="187.32" r="1.6"/>
<circle cx="354.41" cy="187.45" r="1.6"/>
<circle cx="398" cy="187.25" r="1.6"/>
<circle cx="350.25" cy="187.47" r="1.6"/>
<circle cx="402.46" cy="187.46" r="1.6"/>
<circle cx="346.31" cy="187.51" r="1.6"/>
<circle cx="406.38" cy="187.37" r="1.6"/>
<circle cx="344.06" cy="190.36" r="1.6"/>
<circle cx="347.99" cy="190.59" r="1.6"/>
<circle cx="351.97" cy="190.93" r="1.6"/>
<circle cx="356.29" cy="190.78" r="1.6"/>
<circle cx="360.34" cy="190.82" r="1.6"/>
<circle cx="364.24" cy="190.34" r="1.6"/>
<circle cx="368.46" cy="190.87" r="1.6"/>
<circle cx="372.25" cy="190.72" r="1.6"/>
<circle cx="376.36" cy="190.39" r="1.6"/>
<circle cx="380.42" cy="190.52" r="1.6"/>
<circle cx="383.95" cy="190.53" r="1.6"/>
<circle cx="388.41" cy="190.49" r="1.6"/>
<circle cx="392.42" cy="191.03" r="1.6"/>
<circle cx="396.25" cy="190.61" r="1.6"/>
<circle cx="400.24" cy="190.82" r="1.6"/>
<circle cx="404.44" cy="190.77" r="1.6"/>
<circle cx="408.35" cy="190.4" r="1.6"/>
<circle cx="374" cy="193.98" r="1.6"/>
<circle cx="378.42" cy="194.02" r="1.6"/>
<circle cx="370.3" cy="193.81" r="1.6"/>
<circle cx="381.94" cy="193.99" r="1.6"/>
<circle cx="366.37" cy="194.29" r="1.6"/>
<circle cx="386.37" cy="194.01" r="1.6"/>
<circle cx="362.26" cy="194.13" r="1.6"/>
<circle cx="390.23" cy="193.89" r="1.6"/>
<circle cx="358.53" cy="193.94" r="1.6"/>
<circle cx="394.58" cy="194.46" r="1.6"/>
<circle cx="353.91" cy="194.13" r="1.6"/>
<circle cx="398.47" cy="194.48" r="1.6"/>
<circle cx="350.21" cy="193.99" r="1.6"/>
<circle cx="402.05" cy="194.47" r="1.6"/>
<circle cx="346.05" cy="194.21" r="1.6"/>
<circle cx="406" cy="194.17" r="1.6"/>
<circle cx="344.57" cy="197.36" r="1.6"/>
<circle cx="348.47" cy="197.62" r="1.6"/>
<circle cx="352.52" cy="197.76" r="1.6"/>
<circle cx="356.06" cy="197.89" r="1.6"/>
<circle cx="360.24" cy="197.28" r="1.6"/>
<circle cx="363.9" cy="197.61" r="1.6"/>
<circle cx="368.22" cy="197.48" r="1.6"/>
<circle cx="372" cy="197.51" r="1.6"/>
<circle cx="376.12" cy="197.85" r="1.6"/>
<circle cx="379.9" cy="197.79" r="1.6"/>
<circle cx="384.49" cy="197.35" r="1.6"/>
<circle cx="388.55" cy="197.76" r="1.6"/>
<circle cx="392.53" cy="197.47" r="1.6"/>
<circle cx="396.16" cy="197.54" r="1.6"/>
<circle cx="400.6" cy="197.68" r="1.6"/>
<circle cx="404.15" cy="197.57" r="1.6"/>
<circle cx="408.09" cy="197.3" r="1.6"/>
<circle cx="373.97" cy="201.31" r="1.6"/>
<circle cx="378.1" cy="201.38" r="1.6"/>
<circle cx="370.07" cy="200.91" r="1.6"/>
<circle cx="382.26" cy="200.86" r="1.6"/>
<circle cx="366.16" cy="201.4" r="1.6"/>
<circle cx="386.52" cy="201.3" r="1.6"/>
<circle cx="362.34" cy="201.37" r="1.6"/>
<circle cx="390.56" cy="201.11" r="1.6"/>
<circle cx="358.4" cy="200.76" r="1.6"/>
<circle cx="394.41" cy="201.04" r="1.6"/>
<circle cx="354.43" cy="201.18" r="1.6"/>
<circle cx="398.1" cy="200.76" r="1.6"/>
<circle cx="350.55" cy="200.82" r="1.6"/>
<circle cx="402.23" cy="200.97" r="1.6"/>
<circle cx="346.11" cy="201.24" r="1.6"/>
<circle cx="406.58" cy="200.91" r="1.6"/>
<circle cx="344.36" cy="204.4" r="1.6"/>
<circle cx="348.29" cy="204.46" r="1.6"/>
<circle cx="352.02" cy="204.3" r="1.6"/>
<circle cx="356.05" cy="204.82" r="1.6"/>
<circle cx="360.25" cy="204.34" r="1.6"/>
<circle cx="364.53" cy="204.89" r="1.6"/>
<circle cx="368.21" cy="204.29" r="1.6"/>
<circle cx="372.03" cy="204.25" r="1.6"/>
<circle cx="376.14" cy="204.25" r="1.6"/>
<circle cx="380.07" cy="204.37" r="1.6"/>
<circle cx="384.3" cy="204.81" r="1.6"/>
<circle cx="388.42" cy="204.48" r="1.6"/>
<circle cx="392.19" cy="204.56" r="1.6"/>
<circle cx="396.16" cy="204.43" r="1.6"/>
<circle cx="399.94" cy="204.38" r="1.6"/>
<circle cx="404.58" cy="204.28" r="1.6"/>
<circle cx="408.25" cy="204.63" r="1.6"/>
<circle cx="374.5" cy="207.8" r="1.6"/>
<circle cx="378.09" cy="207.82" r="1.6"/>
<circle cx="370.18" cy="207.96" r="1.6"/>
<circle cx="382.57" cy="208.24" r="1.6"/>
<circle cx="366.51" cy="207.67" r="1.6"/>
<circle cx="385.92" cy="208.15" r="1.6"/>
<circle cx="362.53" cy="207.98" r="1.6"/>
<circle cx="390.31" cy="207.65" r="1.6"/>
<circle cx="358.17" cy="208.3" r="1.6"/>
<circle cx="394.48" cy="208.25" r="1.6"/>
<circle cx="354.58" cy="207.82" r="1.6"/>
<circle cx="397.98" cy="207.76" r="1.6"/>
<circle cx="350.27" cy="208.13" r="1.6"/>
<circle cx="402.56" cy="208.16" r="1.6"/>
<circle cx="346.35" cy="208.19" r="1.6"/>
<circle cx="406.22" cy="208.04" r="1.6"/>
<circle cx="338.18" cy="163.2" r="1.6"/>
<circle cx="414.41" cy="163.29" r="1.6"/>
<circle cx="338.6" cy="165.51" r="1.6"/>
<circle cx="414.34" cy="165.47" r="1.6"/>
<circle cx="338.6" cy="168.43" r="1.6"/>
<circle cx="414.33" cy="167.99" r="1.6"/>
<circle cx="338.52" cy="171" r="1.6"/>
<circle cx="414.52" cy="170.75" r="1.6"/>
<circle cx="338.57" cy="173.25" r="1.6"/>
<circle cx="414.46" cy="173.56" r="1.6"/>
<circle cx="338.82" cy="176.34" r="1.6"/>
<circle cx="414.87" cy="176.22" r="1.6"/>
<circle cx="338.31" cy="178.71" r="1.6"/>
<circle cx="414.92" cy="179.03" r="1.6"/>
<circle cx="338.37" cy="181.19" r="1.6"/>
<circle cx="414.6" cy="181.65" r="1.6"/>
<circle cx="338.44" cy="184.01" r="1.6"/>
<circle cx="414.72" cy="184.47" r="1.6"/>
<circle cx="338.31" cy="186.5" r="1.6"/>
<circle cx="414.49" cy="186.77" r="1.6"/>
<circle cx="338.63" cy="189.26" r="1.6"/>
<circle cx="414.81" cy="189.64" r="1.6"/>
<circle cx="338.5" cy="191.91" r="1.6"/>
<circle cx="414.93" cy="191.99" r="1.6"/>
<circle cx="338.72" cy="194.58" r="1.6"/>
<circle cx="414.41" cy="194.95" r="1.6"/>
<circle cx="338.36" cy="197.73" r="1.6"/>
<circle cx="414.6" cy="197.19" r="1.6"/>
<circle cx="338.31" cy="200" r="1.6"/>
<circle cx="414.72" cy="200.37" r="1.6"/>
<circle cx="338.25" cy="202.63" r="1.6"/>
<circle cx="414.4" cy="203.04" r="1.6"/>
<circle cx="338.25" cy="205.04" r="1.6"/>
<circle cx="414.29" cy="205.28" r="1.6"/>
<circle cx="338.78" cy="208.27" r="1.6"/>
<circle cx="414.76" cy="208.35" r="1.6"/>
<circle cx="348.3" cy="213.58" r="1.6"/>
<circle cx="351.78" cy="214.01" r="1.6"/>
<circle cx="356.17" cy="213.37" r="1.6"/>
<circle cx="360.12" cy="213.62" r="1.6"/>
<circle cx="363.91" cy="213.58" r="1.6"/>
<circle cx="367.77" cy="213.35" r="1.6"/>
<circle cx="371.85" cy="213.6" r="1.6"/>
<circle cx="376.32" cy="213.44" r="1.6"/>
<circle cx="380.32" cy="213.5" r="1.6"/>
<circle cx="383.9" cy="213.93" r="1.6"/>
<circle cx="388.23" cy="213.65" r="1.6"/>
<circle cx="391.68" cy="213.68" r="1.6"/>
<circle cx="395.91" cy="213.99" r="1.6"/>
<circle cx="399.79" cy="213.6" r="1.6"/>
<circle cx="404.28" cy="213.37" r="1.6"/>
<circle cx="375.09" cy="218.72" r="1.6"/>
<circle cx="379.34" cy="218.18" r="1.6"/>
<circle cx="370.82" cy="218.19" r="1.6"/>
<circle cx="383.44" cy="218.33" r="1.6"/>
<circle cx="367.32" cy="218.78" r="1.6"/>
<circle cx="387.04" cy="218.34" r="1.6"/>
<circle cx="363.47" cy="218.58" r="1.6"/>
<circle cx="390.98" cy="218.65" r="1.6"/>
<circle cx="359.02" cy="218.34" r="1.6"/>
<circle cx="394.8" cy="218.68" r="1.6"/>
<circle cx="355.44" cy="218.59" r="1.6"/>
<circle cx="399.46" cy="218.17" r="1.6"/>
<circle cx="350.96" cy="218.48" r="1.6"/>
<circle cx="403.47" cy="218.82" r="1.6"/>
<circle cx="347.07" cy="218.33" r="1.6"/>
<circle cx="407.1" cy="218.5" r="1.6"/>
<circle cx="348.8" cy="223.08" r="1.6"/>
<circle cx="352.71" cy="223.47" r="1.6"/>
<circle cx="356.73" cy="223.49" r="1.6"/>
<circle cx="360.58" cy="223.18" r="1.6"/>
<circle cx="364.37" cy="223.2" r="1.6"/>
<circle cx="368.7" cy="223.01" r="1.6"/>
<circle cx="372.29" cy="223.48" r="1.6"/>
<circle cx="376.32" cy="223" r="1.6"/>
<circle cx="380.17" cy="223.34" r="1.6"/>
<circle cx="384.38" cy="223.64" r="1.6"/>
<circle cx="388.77" cy="223.64" r="1.6"/>
<circle cx="392.34" cy="223.01" r="1.6"/>
<circle cx="396.22" cy="223.3" r="1.6"/>
<circle cx="400.65" cy="223.26" r="1.6"/>
<circle cx="404.31" cy="223.24" r="1.6"/>
<circle cx="374.58" cy="226.62" r="1.6"/>
<circle cx="378.67" cy="226.74" r="1.6"/>
<circle cx="370.62" cy="226.23" r="1.6"/>
<circle cx="382.74" cy="226.36" r="1.6"/>
<circle cx="366.55" cy="226.41" r="1.6"/>
<circle cx="386.67" cy="226.29" r="1.6"/>
<circle cx="362.32" cy="226.32" r="1.6"/>
<circle cx="390.26" cy="226.77" r="1.6"/>
<circle cx="358.55" cy="226.38" r="1.6"/>
<circle cx="394.43" cy="226.84" r="1.6"/>
<circle cx="354.51" cy="226.31" r="1.6"/>
<circle cx="398.72" cy="226.61" r="1.6"/>
<circle cx="350.84" cy="226.22" r="1.6"/>
<circle cx="402.48" cy="226.72" r="1.6"/>
<circle cx="346.14" cy="230.09" r="1.6"/>
<circle cx="349.58" cy="229.66" r="1.6"/>
<circle cx="353.63" cy="229.58" r="1.6"/>
<circle cx="358.23" cy="229.86" r="1.6"/>
<circle cx="362.2" cy="229.71" r="1.6"/>
<circle cx="366.16" cy="229.76" r="1.6"/>
<circle cx="369.73" cy="229.99" r="1.6"/>
<circle cx="374.21" cy="229.52" r="1.6"/>
<circle cx="377.97" cy="229.88" r="1.6"/>
<circle cx="381.7" cy="229.71" r="1.6"/>
<circle cx="385.65" cy="229.59" r="1.6"/>
<circle cx="389.73" cy="229.87" r="1.6"/>
<circle cx="394.01" cy="229.59" r="1.6"/>
<circle cx="397.56" cy="229.68" r="1.6"/>
<circle cx="402.02" cy="229.58" r="1.6"/>
<circle cx="405.77" cy="229.59" r="1.6"/>
<circle cx="410.11" cy="229.83" r="1.6"/>
<circle cx="375.29" cy="232.92" r="1.6"/>
<circle cx="379.53" cy="233.24" r="1.6"/>
<circle cx="371.7" cy="232.91" r="1.6"/>
<circle cx="383.36" cy="233.34" r="1.6"/>
<circle cx="367.54" cy="233.05" r="1.6"/>
<circle cx="387.47" cy="233.52" r="1.6"/>
<circle cx="363.47" cy="233.25" r="1.6"/>
<circle cx="391.5" cy="233.14" r="1.6"/>
<circle cx="364.9" cy="237.05" r="1.6"/>
<circle cx="368.55" cy="236.49" r="1.6"/>
<circle cx="372.81" cy="236.49" r="1.6"/>
<circle cx="376.3" cy="236.98" r="1.6"/>
<circle cx="380.6" cy="236.92" r="1.6"/>
<circle cx="384.58" cy="236.97" r="1.6"/>
<circle cx="388.62" cy="236.46" r="1.6"/>
<circle cx="374.16" cy="240.64" r="1.6"/>
<circle cx="378.6" cy="240.89" r="1.6"/>
<circle cx="370.21" cy="240.69" r="1.6"/>
<circle cx="382.41" cy="240.6" r="1.6"/>
<circle cx="372.25" cy="243.55" r="1.6"/>
<circle cx="376.51" cy="244" r="1.6"/>
<circle cx="380.23" cy="243.69" r="1.6"/>
<circle cx="374.71" cy="248.63" r="1.6"/>
<circle cx="378.29" cy="248.04" r="1.6"/>
<circle cx="368.46" cy="252.33" r="1.6"/>
<circle cx="372.14" cy="251.69" r="1.6"/>
<circle cx="376.45" cy="251.92" r="1.6"/>
<circle cx="380.43" cy="252.08" r="1.6"/>
<circle cx="384.38" cy="251.76" r="1.6"/>
<circle cx="375.95" cy="255.21" r="1.6"/>
<circle cx="379.68" cy="255.64" r="1.6"/>
<circle cx="460.6" cy="90" r="1.6"/>
<circle cx="464.4" cy="95.4" r="1.6"/>
<circle cx="460.6" cy="96.9" r="1.6"/>
<circle cx="457.7" cy="103.5" r="1.6"/>
<circle cx="464.4" cy="104.6" r="1.6"/>
<circle cx="460.6" cy="106" r="1.6"/>
<circle cx="460.6" cy="109.8" r="1.6"/>
<circle cx="464.4" cy="111.7" r="1.6"/>
<circle cx="460.6" cy="114.2" r="1.6"/>
<circle cx="461.7" cy="120.4" r="1.6"/>
<circle cx="458" cy="122" r="1.6"/>
<circle cx="465" cy="124.2" r="1.6"/>
<circle cx="460.6" cy="124.6" r="1.6"/>
<circle cx="455.2" cy="126.5" r="1.6"/>
<circle cx="458" cy="129" r="1.6"/>
<circle cx="463.5" cy="129" r="1.6"/>
<circle cx="460.6" cy="132" r="1.6"/>
<circle cx="452" cy="137" r="1.6"/>
<circle cx="458" cy="137" r="1.6"/>
<circle cx="463.5" cy="137" r="1.6"/>
<circle cx="469" cy="137" r="1.6"/>
<circle cx="460.4" cy="263.8" r="1.6"/>
<circle cx="463.8" cy="263.8" r="1.6"/>
<circle cx="464.4" cy="266.7" r="1.6"/>
<circle cx="460.8" cy="269.5" r="1.6"/>
<circle cx="460.8" cy="272.3" r="1.6"/>
<circle cx="453.18" cy="140.38" r="1.6"/>
<circle cx="456.75" cy="140.53" r="1.6"/>
<circle cx="460.96" cy="140.52" r="1.6"/>
<circle cx="464.69" cy="140.42" r="1.6"/>
<circle cx="469.11" cy="140.88" r="1.6"/>
<circle cx="458.13" cy="143.84" r="1.6"/>
<circle cx="462.63" cy="143.48" r="1.6"/>
<circle cx="454.69" cy="143.53" r="1.6"/>
<circle cx="466.52" cy="143.84" r="1.6"/>
<circle cx="450.54" cy="143.66" r="1.6"/>
<circle cx="470.39" cy="143.86" r="1.6"/>
<circle cx="446.4" cy="143.91" r="1.6"/>
<circle cx="474.41" cy="143.76" r="1.6"/>
<circle cx="442.12" cy="143.88" r="1.6"/>
<circle cx="478.44" cy="143.61" r="1.6"/>
<circle cx="437.18" cy="148.9" r="1.6"/>
<circle cx="440.97" cy="148.48" r="1.6"/>
<circle cx="444.98" cy="148.42" r="1.6"/>
<circle cx="448.74" cy="148.65" r="1.6"/>
<circle cx="452.71" cy="148.66" r="1.6"/>
<circle cx="457.01" cy="148.38" r="1.6"/>
<circle cx="461.1" cy="148.41" r="1.6"/>
<circle cx="465.16" cy="148.89" r="1.6"/>
<circle cx="469.01" cy="148.39" r="1.6"/>
<circle cx="473" cy="148.61" r="1.6"/>
<circle cx="477.32" cy="148.45" r="1.6"/>
<circle cx="481.25" cy="149.05" r="1.6"/>
<circle cx="485.16" cy="148.92" r="1.6"/>
<circle cx="459.19" cy="153.04" r="1.6"/>
<circle cx="463.39" cy="153.02" r="1.6"/>
<circle cx="455.69" cy="152.47" r="1.6"/>
<circle cx="467.6" cy="153" r="1.6"/>
<circle cx="451.1" cy="152.6" r="1.6"/>
<circle cx="471.58" cy="152.46" r="1.6"/>
<circle cx="447.68" cy="152.54" r="1.6"/>
<circle cx="475.62" cy="152.45" r="1.6"/>
<circle cx="443.4" cy="152.99" r="1.6"/>
<circle cx="479.2" cy="152.53" r="1.6"/>
<circle cx="439.4" cy="152.57" r="1.6"/>
<circle cx="483.08" cy="152.48" r="1.6"/>
<circle cx="436.26" cy="157.31" r="1.6"/>
<circle cx="440.63" cy="157.28" r="1.6"/>
<circle cx="444.27" cy="157.2" r="1.6"/>
<circle cx="448.23" cy="157.02" r="1.6"/>
<circle cx="452.6" cy="156.9" r="1.6"/>
<circle cx="456.76" cy="157.04" r="1.6"/>
<circle cx="460.56" cy="157.27" r="1.6"/>
<circle cx="464.22" cy="157.35" r="1.6"/>
<circle cx="468.59" cy="156.93" r="1.6"/>
<circle cx="472.71" cy="156.84" r="1.6"/>
<circle cx="476.84" cy="157.05" r="1.6"/>
<circle cx="480.4" cy="157.19" r="1.6"/>
<circle cx="484.46" cy="156.77" r="1.6"/>
<circle cx="457.67" cy="160.88" r="1.6"/>
<circle cx="461.72" cy="161.03" r="1.6"/>
<circle cx="453.6" cy="161.54" r="1.6"/>
<circle cx="465.56" cy="161.31" r="1.6"/>
<circle cx="449.37" cy="160.85" r="1.6"/>
<circle cx="469.17" cy="160.95" r="1.6"/>
<circle cx="445.58" cy="161.15" r="1.6"/>
<circle cx="473.51" cy="161.48" r="1.6"/>
<circle cx="441.24" cy="161.01" r="1.6"/>
<circle cx="477.61" cy="160.87" r="1.6"/>
<circle cx="437.15" cy="161.1" r="1.6"/>
<circle cx="481.22" cy="161.1" r="1.6"/>
<circle cx="433.31" cy="161.26" r="1.6"/>
<circle cx="485.56" cy="160.99" r="1.6"/>
<circle cx="431.09" cy="165.58" r="1.6"/>
<circle cx="434.74" cy="165.91" r="1.6"/>
<circle cx="438.82" cy="165.35" r="1.6"/>
<circle cx="442.72" cy="165.7" r="1.6"/>
<circle cx="447.26" cy="165.8" r="1.6"/>
<circle cx="450.93" cy="165.43" r="1.6"/>
<circle cx="454.66" cy="165.7" r="1.6"/>
<circle cx="459.04" cy="165.5" r="1.6"/>
<circle cx="463.1" cy="165.56" r="1.6"/>
<circle cx="467.31" cy="165.76" r="1.6"/>
<circle cx="470.82" cy="165.88" r="1.6"/>
<circle cx="474.68" cy="165.62" r="1.6"/>
<circle cx="478.93" cy="165.42" r="1.6"/>
<circle cx="482.69" cy="165.8" r="1.6"/>
<circle cx="486.66" cy="165.64" r="1.6"/>
<circle cx="458.31" cy="169.15" r="1.6"/>
<circle cx="461.79" cy="169.48" r="1.6"/>
<circle cx="454" cy="169.5" r="1.6"/>
<circle cx="466.22" cy="169.17" r="1.6"/>
<circle cx="449.87" cy="169.26" r="1.6"/>
<circle cx="469.68" cy="169.67" r="1.6"/>
<circle cx="446.2" cy="169.55" r="1.6"/>
<circle cx="473.65" cy="169.64" r="1.6"/>
<circle cx="442.17" cy="169.38" r="1.6"/>
<circle cx="478.17" cy="169.37" r="1.6"/>
<circle cx="437.81" cy="169.12" r="1.6"/>
<circle cx="481.81" cy="169.08" r="1.6"/>
<circle cx="433.88" cy="169.57" r="1.6"/>
<circle cx="486.14" cy="169.64" r="1.6"/>
<circle cx="430.15" cy="169.24" r="1.6"/>
<circle cx="490.04" cy="169.36" r="1.6"/>
<circle cx="429.2" cy="172.72" r="1.6"/>
<circle cx="432.84" cy="172.8" r="1.6"/>
<circle cx="437.33" cy="172.5" r="1.6"/>
<circle cx="441.27" cy="172.36" r="1.6"/>
<circle cx="444.83" cy="172.52" r="1.6"/>
<circle cx="449.17" cy="173.01" r="1.6"/>
<circle cx="453.17" cy="172.58" r="1.6"/>
<circle cx="457.27" cy="172.58" r="1.6"/>
<circle cx="460.82" cy="172.99" r="1.6"/>
<circle cx="465.09" cy="172.83" r="1.6"/>
<circle cx="469.12" cy="173.04" r="1.6"/>
<circle cx="472.98" cy="172.94" r="1.6"/>
<circle cx="477.14" cy="172.95" r="1.6"/>
<circle cx="480.96" cy="172.86" r="1.6"/>
<circle cx="485.05" cy="172.57" r="1.6"/>
<circle cx="488.8" cy="172.79" r="1.6"/>
<circle cx="492.7" cy="172.99" r="1.6"/>
<circle cx="458.75" cy="175.82" r="1.6"/>
<circle cx="462.72" cy="176.45" r="1.6"/>
<circle cx="454.89" cy="175.9" r="1.6"/>
<circle cx="466.67" cy="175.83" r="1.6"/>
<circle cx="451.13" cy="176.24" r="1.6"/>
<circle cx="471.14" cy="176.31" r="1.6"/>
<circle cx="446.7" cy="176.21" r="1.6"/>
<circle cx="474.9" cy="176.37" r="1.6"/>
<circle cx="443.22" cy="176.42" r="1.6"/>
<circle cx="478.7" cy="176.4" r="1.6"/>
<circle cx="439.29" cy="176.46" r="1.6"/>
<circle cx="482.72" cy="175.94" r="1.6"/>
<circle cx="434.73" cy="175.82" r="1.6"/>
<circle cx="487.24" cy="176.37" r="1.6"/>
<circle cx="431.09" cy="176.37" r="1.6"/>
<circle cx="491.09" cy="176" r="1.6"/>
<circle cx="428.72" cy="179.31" r="1.6"/>
<circle cx="433.18" cy="179.39" r="1.6"/>
<circle cx="436.87" cy="179.54" r="1.6"/>
<circle cx="440.66" cy="179.42" r="1.6"/>
<circle cx="444.85" cy="179.74" r="1.6"/>
<circle cx="448.91" cy="179.47" r="1.6"/>
<circle cx="453.32" cy="179.6" r="1.6"/>
<circle cx="457.25" cy="179.68" r="1.6"/>
<circle cx="460.67" cy="179.53" r="1.6"/>
<circle cx="464.96" cy="179.78" r="1.6"/>
<circle cx="468.89" cy="179.74" r="1.6"/>
<circle cx="473.03" cy="179.39" r="1.6"/>
<circle cx="477.25" cy="179.31" r="1.6"/>
<circle cx="481.22" cy="179.36" r="1.6"/>
<circle cx="484.65" cy="179.38" r="1.6"/>
<circle cx="489.18" cy="179.93" r="1.6"/>
<circle cx="492.65" cy="179.59" r="1.6"/>
<circle cx="458.99" cy="183.25" r="1.6"/>
<circle cx="462.78" cy="183.04" r="1.6"/>
<circle cx="454.89" cy="183.27" r="1.6"/>
<circle cx="466.83" cy="183.35" r="1.6"/>
<circle cx="450.85" cy="182.84" r="1.6"/>
<circle cx="471.14" cy="183.04" r="1.6"/>
<circle cx="446.73" cy="183.14" r="1.6"/>
<circle cx="474.71" cy="183.24" r="1.6"/>
<circle cx="443.14" cy="183.24" r="1.6"/>
<circle cx="479.09" cy="182.94" r="1.6"/>
<circle cx="438.93" cy="182.97" r="1.6"/>
<circle cx="483.27" cy="182.75" r="1.6"/>
<circle cx="435.27" cy="182.71" r="1.6"/>
<circle cx="486.79" cy="182.87" r="1.6"/>
<circle cx="431.28" cy="183.04" r="1.6"/>
<circle cx="490.92" cy="183.31" r="1.6"/>
<circle cx="428.81" cy="186.46" r="1.6"/>
<circle cx="433.02" cy="186.66" r="1.6"/>
<circle cx="437.18" cy="186.59" r="1.6"/>
<circle cx="440.89" cy="186.37" r="1.6"/>
<circle cx="444.76" cy="186.73" r="1.6"/>
<circle cx="449.11" cy="186.66" r="1.6"/>
<circle cx="452.77" cy="186.44" r="1.6"/>
<circle cx="457.19" cy="186.54" r="1.6"/>
<circle cx="460.74" cy="186.46" r="1.6"/>
<circle cx="465.27" cy="186.3" r="1.6"/>
<circle cx="468.78" cy="186.35" r="1.6"/>
<circle cx="473.14" cy="186.73" r="1.6"/>
<circle cx="476.76" cy="186.25" r="1.6"/>
<circle cx="480.82" cy="186.37" r="1.6"/>
<circle cx="485.02" cy="186.25" r="1.6"/>
<circle cx="488.88" cy="186.27" r="1.6"/>
<circle cx="493.33" cy="186.65" r="1.6"/>
<circle cx="458.72" cy="190.26" r="1.6"/>
<circle cx="462.72" cy="189.85" r="1.6"/>
<circle cx="455.34" cy="190.14" r="1.6"/>
<circle cx="467.16" cy="189.89" r="1.6"/>
<circle cx="450.79" cy="190.03" r="1.6"/>
<circle cx="470.72" cy="189.73" r="1.6"/>
<circle cx="446.92" cy="189.61" r="1.6"/>
<circle cx="474.93" cy="190.14" r="1.6"/>
<circle cx="443.14" cy="189.93" r="1.6"/>
<circle cx="479.09" cy="189.91" r="1.6"/>
<circle cx="438.75" cy="190.01" r="1.6"/>
<circle cx="482.93" cy="190.1" r="1.6"/>
<circle cx="435.29" cy="189.88" r="1.6"/>
<circle cx="487.05" cy="190.11" r="1.6"/>
<circle cx="430.94" cy="189.74" r="1.6"/>
<circle cx="491.16" cy="190.2" r="1.6"/>
<circle cx="429.19" cy="193.52" r="1.6"/>
<circle cx="433.25" cy="193.51" r="1.6"/>
<circle cx="437.1" cy="193.35" r="1.6"/>
<circle cx="440.87" cy="193.47" r="1.6"/>
<circle cx="444.72" cy="193.32" r="1.6"/>
<circle cx="449.2" cy="193.53" r="1.6"/>
<circle cx="453.09" cy="193.21" r="1.6"/>
<circle cx="456.95" cy="193.35" r="1.6"/>
<circle cx="461.09" cy="193.32" r="1.6"/>
<circle cx="465.12" cy="193.68" r="1.6"/>
<circle cx="468.78" cy="193.49" r="1.6"/>
<circle cx="473.19" cy="193.3" r="1.6"/>
<circle cx="476.99" cy="193.71" r="1.6"/>
<circle cx="480.68" cy="193.41" r="1.6"/>
<circle cx="484.76" cy="193.58" r="1.6"/>
<circle cx="489.31" cy="193.39" r="1.6"/>
<circle cx="492.72" cy="193.43" r="1.6"/>
<circle cx="459.03" cy="196.98" r="1.6"/>
<circle cx="463.01" cy="196.92" r="1.6"/>
<circle cx="455.23" cy="196.84" r="1.6"/>
<circle cx="466.94" cy="197.14" r="1.6"/>
<circle cx="450.8" cy="196.96" r="1.6"/>
<circle cx="470.92" cy="197.01" r="1.6"/>
<circle cx="446.74" cy="197.17" r="1.6"/>
<circle cx="474.9" cy="196.52" r="1.6"/>
<circle cx="442.84" cy="196.76" r="1.6"/>
<circle cx="478.66" cy="196.77" r="1.6"/>
<circle cx="438.94" cy="196.97" r="1.6"/>
<circle cx="482.9" cy="196.66" r="1.6"/>
<circle cx="434.81" cy="197" r="1.6"/>
<circle cx="487.31" cy="196.85" r="1.6"/>
<circle cx="430.8" cy="197.04" r="1.6"/>
<circle cx="490.92" cy="196.63" r="1.6"/>
<circle cx="428.74" cy="200.47" r="1.6"/>
<circle cx="433.22" cy="200.37" r="1.6"/>
<circle cx="436.98" cy="200.32" r="1.6"/>
<circle cx="440.81" cy="200.6" r="1.6"/>
<circle cx="444.9" cy="200.37" r="1.6"/>
<circle cx="449.22" cy="200.49" r="1.6"/>
<circle cx="452.98" cy="200.13" r="1.6"/>
<circle cx="457.03" cy="200.01" r="1.6"/>
<circle cx="461.23" cy="200.17" r="1.6"/>
<circle cx="465.25" cy="200.11" r="1.6"/>
<circle cx="468.91" cy="200.1" r="1.6"/>
<circle cx="472.95" cy="200.05" r="1.6"/>
<circle cx="476.65" cy="200.43" r="1.6"/>
<circle cx="480.85" cy="200.09" r="1.6"/>
<circle cx="484.86" cy="200.26" r="1.6"/>
<circle cx="488.95" cy="200.37" r="1.6"/>
<circle cx="493.11" cy="200.18" r="1.6"/>
<circle cx="459.3" cy="203.97" r="1.6"/>
<circle cx="462.69" cy="203.95" r="1.6"/>
<circle cx="455.28" cy="203.92" r="1.6"/>
<circle cx="466.75" cy="203.95" r="1.6"/>
<circle cx="451.09" cy="203.38" r="1.6"/>
<circle cx="470.66" cy="204.04" r="1.6"/>
<circle cx="447.11" cy="203.55" r="1.6"/>
<circle cx="474.72" cy="203.47" r="1.6"/>
<circle cx="442.81" cy="203.91" r="1.6"/>
<circle cx="478.89" cy="203.48" r="1.6"/>
<circle cx="439.28" cy="203.92" r="1.6"/>
<circle cx="482.77" cy="203.99" r="1.6"/>
<circle cx="435.08" cy="203.92" r="1.6"/>
<circle cx="487.12" cy="204" r="1.6"/>
<circle cx="431.2" cy="203.96" r="1.6"/>
<circle cx="490.79" cy="203.85" r="1.6"/>
<circle cx="429.02" cy="207.34" r="1.6"/>
<circle cx="432.96" cy="207.43" r="1.6"/>
<circle cx="437.04" cy="207" r="1.6"/>
<circle cx="440.81" cy="206.91" r="1.6"/>
<circle cx="445" cy="206.86" r="1.6"/>
<circle cx="448.98" cy="206.92" r="1.6"/>
<circle cx="452.99" cy="207.17" r="1.6"/>
<circle cx="457.03" cy="207.42" r="1.6"/>
<circle cx="460.65" cy="207.41" r="1.6"/>
<circle cx="464.98" cy="207.21" r="1.6"/>
<circle cx="469.12" cy="207.41" r="1.6"/>
<circle cx="472.91" cy="207.11" r="1.6"/>
<circle cx="477.32" cy="206.87" r="1.6"/>
<circle cx="481.1" cy="207.26" r="1.6"/>
<circle cx="484.67" cy="207.24" r="1.6"/>
<circle cx="489.13" cy="207.47" r="1.6"/>
<circle cx="492.88" cy="207.5" r="1.6"/>
<circle cx="459.01" cy="210.6" r="1.6"/>
<circle cx="463.28" cy="210.29" r="1.6"/>
<circle cx="455.15" cy="210.7" r="1.6"/>
<circle cx="466.89" cy="210.87" r="1.6"/>
<circle cx="450.91" cy="210.6" r="1.6"/>
<circle cx="471.02" cy="210.8" r="1.6"/>
<circle cx="446.8" cy="210.57" r="1.6"/>
<circle cx="474.95" cy="210.65" r="1.6"/>
<circle cx="443.23" cy="210.47" r="1.6"/>
<circle cx="479.23" cy="210.55" r="1.6"/>
<circle cx="439" cy="210.45" r="1.6"/>
<circle cx="483" cy="210.95" r="1.6"/>
<circle cx="435.11" cy="210.82" r="1.6"/>
<circle cx="486.88" cy="210.49" r="1.6"/>
<circle cx="430.86" cy="210.67" r="1.6"/>
<circle cx="491.09" cy="210.81" r="1.6"/>
<circle cx="428.68" cy="214.22" r="1.6"/>
<circle cx="433.27" cy="214.09" r="1.6"/>
<circle cx="436.68" cy="213.92" r="1.6"/>
<circle cx="440.65" cy="213.84" r="1.6"/>
<circle cx="445.3" cy="214.14" r="1.6"/>
<circle cx="449.11" cy="214.26" r="1.6"/>
<circle cx="453.29" cy="214.14" r="1.6"/>
<circle cx="457.08" cy="214.15" r="1.6"/>
<circle cx="461.14" cy="214.13" r="1.6"/>
<circle cx="465.13" cy="213.86" r="1.6"/>
<circle cx="469.12" cy="214.03" r="1.6"/>
<circle cx="473.18" cy="213.78" r="1.6"/>
<circle cx="476.78" cy="213.74" r="1.6"/>
<circle cx="481.19" cy="214.35" r="1.6"/>
<circle cx="485.11" cy="213.97" r="1.6"/>
<circle cx="489.23" cy="214.26" r="1.6"/>
<circle cx="493.04" cy="213.89" r="1.6"/>
<circle cx="458.86" cy="217.45" r="1.6"/>
<circle cx="462.87" cy="217.46" r="1.6"/>
<circle cx="455.1" cy="217.81" r="1.6"/>
<circle cx="466.69" cy="217.55" r="1.6"/>
<circle cx="450.68" cy="217.24" r="1.6"/>
<circle cx="471.22" cy="217.56" r="1.6"/>
<circle cx="447.29" cy="217.47" r="1.6"/>
<circle cx="474.66" cy="217.43" r="1.6"/>
<circle cx="443.06" cy="217.81" r="1.6"/>
<circle cx="479.34" cy="217.49" r="1.6"/>
<circle cx="438.94" cy="217.23" r="1.6"/>
<circle cx="483.1" cy="217.31" r="1.6"/>
<circle cx="434.76" cy="217.17" r="1.6"/>
<circle cx="486.65" cy="217.64" r="1.6"/>
<circle cx="430.74" cy="217.83" r="1.6"/>
<circle cx="490.71" cy="217.77" r="1.6"/>
<circle cx="428.74" cy="220.62" r="1.6"/>
<circle cx="433.15" cy="220.77" r="1.6"/>
<circle cx="437.16" cy="220.73" r="1.6"/>
<circle cx="440.69" cy="221.15" r="1.6"/>
<circle cx="445.15" cy="221.2" r="1.6"/>
<circle cx="449.16" cy="220.66" r="1.6"/>
<circle cx="453.09" cy="221.1" r="1.6"/>
<circle cx="456.97" cy="221.26" r="1.6"/>
<circle cx="460.83" cy="221.28" r="1.6"/>
<circle cx="465.15" cy="220.61" r="1.6"/>
<circle cx="468.66" cy="221.06" r="1.6"/>
<circle cx="473.22" cy="220.66" r="1.6"/>
<circle cx="476.87" cy="221.11" r="1.6"/>
<circle cx="480.77" cy="221.21" r="1.6"/>
<circle cx="484.99" cy="220.65" r="1.6"/>
<circle cx="488.91" cy="221.01" r="1.6"/>
<circle cx="492.96" cy="221.08" r="1.6"/>
<circle cx="458.75" cy="224.61" r="1.6"/>
<circle cx="462.9" cy="224.5" r="1.6"/>
<circle cx="455.09" cy="224.34" r="1.6"/>
<circle cx="466.92" cy="224.6" r="1.6"/>
<circle cx="451.31" cy="224.6" r="1.6"/>
<circle cx="471.05" cy="224.25" r="1.6"/>
<circle cx="446.69" cy="224.73" r="1.6"/>
<circle cx="475.14" cy="224.63" r="1.6"/>
<circle cx="442.88" cy="224.47" r="1.6"/>
<circle cx="479.33" cy="224.63" r="1.6"/>
<circle cx="439.07" cy="224.27" r="1.6"/>
<circle cx="482.95" cy="224.67" r="1.6"/>
<circle cx="434.91" cy="224.53" r="1.6"/>
<circle cx="487.07" cy="224.68" r="1.6"/>
<circle cx="431.22" cy="224.25" r="1.6"/>
<circle cx="490.65" cy="224.23" r="1.6"/>
<circle cx="422.95" cy="172.76" r="1.6"/>
<circle cx="499.02" cy="172.97" r="1.6"/>
<circle cx="422.68" cy="175.65" r="1.6"/>
<circle cx="499.02" cy="175.68" r="1.6"/>
<circle cx="423.05" cy="177.98" r="1.6"/>
<circle cx="499.05" cy="178.36" r="1.6"/>
<circle cx="423.13" cy="181.15" r="1.6"/>
<circle cx="498.69" cy="180.57" r="1.6"/>
<circle cx="423.04" cy="183.79" r="1.6"/>
<circle cx="498.59" cy="183.76" r="1.6"/>
<circle cx="423.3" cy="186.12" r="1.6"/>
<circle cx="498.87" cy="186.43" r="1.6"/>
<circle cx="422.98" cy="188.82" r="1.6"/>
<circle cx="498.63" cy="189.2" r="1.6"/>
<circle cx="423.2" cy="191.72" r="1.6"/>
<circle cx="498.51" cy="191.96" r="1.6"/>
<circle cx="423.19" cy="194.28" r="1.6"/>
<circle cx="498.86" cy="194.75" r="1.6"/>
<circle cx="423.27" cy="197.2" r="1.6"/>
<circle cx="498.78" cy="197.25" r="1.6"/>
<circle cx="422.78" cy="199.7" r="1.6"/>
<circle cx="498.58" cy="200.05" r="1.6"/>
<circle cx="422.9" cy="202.68" r="1.6"/>
<circle cx="498.73" cy="202.64" r="1.6"/>
<circle cx="422.75" cy="205.03" r="1.6"/>
<circle cx="499.15" cy="205.26" r="1.6"/>
<circle cx="422.72" cy="208.17" r="1.6"/>
<circle cx="499" cy="207.83" r="1.6"/>
<circle cx="423.07" cy="210.69" r="1.6"/>
<circle cx="498.81" cy="210.46" r="1.6"/>
<circle cx="422.67" cy="213.86" r="1.6"/>
<circle cx="499.06" cy="213.51" r="1.6"/>
<circle cx="423.05" cy="216.07" r="1.6"/>
<circle cx="499" cy="216.19" r="1.6"/>
<circle cx="423.31" cy="219.14" r="1.6"/>
<circle cx="499.02" cy="219.28" r="1.6"/>
<circle cx="422.83" cy="221.36" r="1.6"/>
<circle cx="498.59" cy="221.46" r="1.6"/>
<circle cx="422.71" cy="224.09" r="1.6"/>
<circle cx="498.84" cy="224.66" r="1.6"/>
<circle cx="427.52" cy="229.01" r="1.6"/>
<circle cx="431.84" cy="228.39" r="1.6"/>
<circle cx="435.62" cy="228.63" r="1.6"/>
<circle cx="439.28" cy="229.02" r="1.6"/>
<circle cx="443.38" cy="228.75" r="1.6"/>
<circle cx="447.65" cy="229.02" r="1.6"/>
<circle cx="451.67" cy="228.63" r="1.6"/>
<circle cx="455.51" cy="228.46" r="1.6"/>
<circle cx="459.88" cy="229.04" r="1.6"/>
<circle cx="463.36" cy="228.38" r="1.6"/>
<circle cx="467.38" cy="228.6" r="1.6"/>
<circle cx="471.83" cy="228.98" r="1.6"/>
<circle cx="475.79" cy="228.38" r="1.6"/>
<circle cx="479.75" cy="228.85" r="1.6"/>
<circle cx="483.65" cy="229.04" r="1.6"/>
<circle cx="487.24" cy="228.45" r="1.6"/>
<circle cx="491.73" cy="229.01" r="1.6"/>
<circle cx="459.52" cy="232.86" r="1.6"/>
<circle cx="463.46" cy="233.18" r="1.6"/>
<circle cx="455.12" cy="232.88" r="1.6"/>
<circle cx="467.23" cy="232.74" r="1.6"/>
<circle cx="451.39" cy="232.77" r="1.6"/>
<circle cx="471.22" cy="232.75" r="1.6"/>
<circle cx="447.52" cy="232.66" r="1.6"/>
<circle cx="475.55" cy="232.79" r="1.6"/>
<circle cx="443.08" cy="233.3" r="1.6"/>
<circle cx="479.2" cy="233.3" r="1.6"/>
<circle cx="439.66" cy="233.27" r="1.6"/>
<circle cx="483.15" cy="232.96" r="1.6"/>
<circle cx="435.12" cy="233.3" r="1.6"/>
<circle cx="487.64" cy="233.09" r="1.6"/>
<circle cx="431.37" cy="232.89" r="1.6"/>
<circle cx="491.63" cy="232.98" r="1.6"/>
<circle cx="437.09" cy="236.75" r="1.6"/>
<circle cx="440.81" cy="236.69" r="1.6"/>
<circle cx="445.15" cy="237.04" r="1.6"/>
<circle cx="448.75" cy="237.26" r="1.6"/>
<circle cx="452.84" cy="236.94" r="1.6"/>
<circle cx="456.76" cy="236.84" r="1.6"/>
<circle cx="461.24" cy="236.88" r="1.6"/>
<circle cx="464.77" cy="236.99" r="1.6"/>
<circle cx="468.87" cy="237.28" r="1.6"/>
<circle cx="472.73" cy="237.34" r="1.6"/>
<circle cx="476.69" cy="237.28" r="1.6"/>
<circle cx="481.12" cy="236.8" r="1.6"/>
<circle cx="484.98" cy="236.85" r="1.6"/>
<circle cx="459.73" cy="240.59" r="1.6"/>
<circle cx="463.8" cy="241.14" r="1.6"/>
<circle cx="456.25" cy="241.1" r="1.6"/>
<circle cx="467.62" cy="240.65" r="1.6"/>
<circle cx="452.18" cy="240.49" r="1.6"/>
<circle cx="472.06" cy="240.66" r="1.6"/>
<circle cx="448.24" cy="240.46" r="1.6"/>
<circle cx="476.11" cy="240.69" r="1.6"/>
<circle cx="443.65" cy="240.45" r="1.6"/>
<circle cx="480.13" cy="240.82" r="1.6"/>
<circle cx="439.68" cy="240.75" r="1.6"/>
<circle cx="484.19" cy="240.6" r="1.6"/>
<circle cx="449" cy="244.35" r="1.6"/>
<circle cx="452.73" cy="244.79" r="1.6"/>
<circle cx="457.1" cy="244.39" r="1.6"/>
<circle cx="460.66" cy="244.31" r="1.6"/>
<circle cx="465.03" cy="244.6" r="1.6"/>
<circle cx="468.79" cy="244.39" r="1.6"/>
<circle cx="473.03" cy="244.75" r="1.6"/>
<circle cx="458.72" cy="249.46" r="1.6"/>
<circle cx="462.29" cy="249.1" r="1.6"/>
<circle cx="454.66" cy="249.34" r="1.6"/>
<circle cx="466.66" cy="249.09" r="1.6"/>
<circle cx="450.72" cy="249.28" r="1.6"/>
<circle cx="470.74" cy="249.66" r="1.6"/>
<circle cx="452.5" cy="252.16" r="1.6"/>
<circle cx="456.79" cy="252.48" r="1.6"/>
<circle cx="460.76" cy="252.34" r="1.6"/>
<circle cx="464.28" cy="252.73" r="1.6"/>
<circle cx="468.41" cy="252.26" r="1.6"/>
<circle cx="457.41" cy="255.67" r="1.6"/>
<circle cx="461.15" cy="255.61" r="1.6"/>
<circle cx="453.46" cy="255.61" r="1.6"/>
<circle cx="465.23" cy="255.75" r="1.6"/>
<circle cx="456.72" cy="259.66" r="1.6"/>
<circle cx="460.37" cy="259.55" r="1.6"/>
<circle cx="464.42" cy="259.58" r="1.6"/>
<circle cx="376.2" cy="382.7" r="1.6"/>
<circle cx="376.2" cy="400.4" r="1.6"/>
<circle cx="376.2" cy="420.4" r="1.6"/>
<circle cx="373.3" cy="427.9" r="1.6"/>
<circle cx="379.6" cy="427.9" r="1.6"/>
<circle cx="376.2" cy="430.4" r="1.6"/>
<circle cx="372.3" cy="434.2" r="1.6"/>
<circle cx="379.6" cy="434.2" r="1.6"/>
<circle cx="373.3" cy="441.3" r="1.6"/>
<circle cx="379.6" cy="441.3" r="1.6"/>
<circle cx="382.9" cy="441.3" r="1.6"/>
<circle cx="376.2" cy="444.2" r="1.6"/>
<circle cx="376.2" cy="448.5" r="1.6"/>
<circle cx="376" cy="574" r="1.6"/>
<circle cx="379" cy="578.8" r="1.6"/>
<circle cx="376" cy="581.5" r="1.6"/>
<circle cx="376" cy="584.5" r="1.6"/>
<circle cx="371.69" cy="453.06" r="1.6"/>
<circle cx="376.32" cy="452.8" r="1.6"/>
<circle cx="380.01" cy="452.82" r="1.6"/>
<circle cx="374.68" cy="455.46" r="1.6"/>
<circle cx="378.98" cy="455.61" r="1.6"/>
<circle cx="370.43" cy="455.52" r="1.6"/>
<circle cx="382.48" cy="456.02" r="1.6"/>
<circle cx="366.32" cy="455.52" r="1.6"/>
<circle cx="386.79" cy="455.59" r="1.6"/>
<circle cx="368.26" cy="459.67" r="1.6"/>
<circle cx="372.65" cy="459.62" r="1.6"/>
<circle cx="376.74" cy="459.32" r="1.6"/>
<circle cx="380.86" cy="459.75" r="1.6"/>
<circle cx="384.28" cy="459.34" r="1.6"/>
<circle cx="375.15" cy="462.5" r="1.6"/>
<circle cx="379" cy="462.24" r="1.6"/>
<circle cx="371.08" cy="462.25" r="1.6"/>
<circle cx="383.21" cy="462.75" r="1.6"/>
<circle cx="366.9" cy="462.55" r="1.6"/>
<circle cx="387.32" cy="462.27" r="1.6"/>
<circle cx="360.83" cy="466.61" r="1.6"/>
<circle cx="364.52" cy="466.24" r="1.6"/>
<circle cx="368.84" cy="466.32" r="1.6"/>
<circle cx="372.53" cy="466.61" r="1.6"/>
<circle cx="376.79" cy="466.19" r="1.6"/>
<circle cx="380.42" cy="466.18" r="1.6"/>
<circle cx="384.55" cy="466.64" r="1.6"/>
<circle cx="388.81" cy="466.59" r="1.6"/>
<circle cx="392.82" cy="466.54" r="1.6"/>
<circle cx="373.84" cy="471.21" r="1.6"/>
<circle cx="378.47" cy="471.5" r="1.6"/>
<circle cx="369.97" cy="471.15" r="1.6"/>
<circle cx="382.24" cy="471.11" r="1.6"/>
<circle cx="366.17" cy="470.9" r="1.6"/>
<circle cx="386.1" cy="471.2" r="1.6"/>
<circle cx="361.81" cy="470.95" r="1.6"/>
<circle cx="390.48" cy="471.39" r="1.6"/>
<circle cx="351.01" cy="476.09" r="1.6"/>
<circle cx="354.92" cy="476.27" r="1.6"/>
<circle cx="358.97" cy="475.67" r="1.6"/>
<circle cx="362.8" cy="475.84" r="1.6"/>
<circle cx="366.82" cy="475.84" r="1.6"/>
<circle cx="370.73" cy="476.3" r="1.6"/>
<circle cx="374.78" cy="475.83" r="1.6"/>
<circle cx="378.71" cy="475.95" r="1.6"/>
<circle cx="383.02" cy="475.85" r="1.6"/>
<circle cx="386.56" cy="476.1" r="1.6"/>
<circle cx="390.43" cy="476.07" r="1.6"/>
<circle cx="395.02" cy="476.01" r="1.6"/>
<circle cx="398.54" cy="475.98" r="1.6"/>
<circle cx="372.72" cy="479.25" r="1.6"/>
<circle cx="376.44" cy="479.24" r="1.6"/>
<circle cx="368.56" cy="479.43" r="1.6"/>
<circle cx="380.55" cy="479.32" r="1.6"/>
<circle cx="364.41" cy="479.53" r="1.6"/>
<circle cx="384.94" cy="479.58" r="1.6"/>
<circle cx="360.75" cy="479.61" r="1.6"/>
<circle cx="388.49" cy="479.65" r="1.6"/>
<circle cx="356.67" cy="479.53" r="1.6"/>
<circle cx="392.78" cy="479.48" r="1.6"/>
<circle cx="352.57" cy="479.32" r="1.6"/>
<circle cx="396.51" cy="479.51" r="1.6"/>
<circle cx="348.62" cy="479.56" r="1.6"/>
<circle cx="400.36" cy="479.4" r="1.6"/>
<circle cx="344.95" cy="479.32" r="1.6"/>
<circle cx="404.74" cy="479.49" r="1.6"/>
<circle cx="344" cy="483.34" r="1.6"/>
<circle cx="348.01" cy="483.19" r="1.6"/>
<circle cx="351.91" cy="482.7" r="1.6"/>
<circle cx="356.41" cy="482.96" r="1.6"/>
<circle cx="359.84" cy="482.92" r="1.6"/>
<circle cx="364.11" cy="483.16" r="1.6"/>
<circle cx="367.88" cy="482.81" r="1.6"/>
<circle cx="372.47" cy="483.17" r="1.6"/>
<circle cx="375.91" cy="482.89" r="1.6"/>
<circle cx="380.05" cy="483.12" r="1.6"/>
<circle cx="384.23" cy="483.24" r="1.6"/>
<circle cx="388.37" cy="483.01" r="1.6"/>
<circle cx="392.32" cy="483.17" r="1.6"/>
<circle cx="396.33" cy="482.98" r="1.6"/>
<circle cx="400.35" cy="483.15" r="1.6"/>
<circle cx="404.44" cy="482.74" r="1.6"/>
<circle cx="408.41" cy="482.65" r="1.6"/>
<circle cx="374.44" cy="487.06" r="1.6"/>
<circle cx="378.25" cy="487.32" r="1.6"/>
<circle cx="370.3" cy="486.94" r="1.6"/>
<circle cx="382.45" cy="487.26" r="1.6"/>
<circle cx="366.33" cy="486.92" r="1.6"/>
<circle cx="386.22" cy="486.97" r="1.6"/>
<circle cx="362.41" cy="486.86" r="1.6"/>
<circle cx="390.17" cy="487.04" r="1.6"/>
<circle cx="358.17" cy="486.88" r="1.6"/>
<circle cx="394.45" cy="487.24" r="1.6"/>
<circle cx="354.25" cy="486.96" r="1.6"/>
<circle cx="398.03" cy="486.86" r="1.6"/>
<circle cx="350" cy="487.05" r="1.6"/>
<circle cx="402.31" cy="486.71" r="1.6"/>
<circle cx="346.54" cy="486.88" r="1.6"/>
<circle cx="406.49" cy="487.24" r="1.6"/>
<circle cx="344.57" cy="490.11" r="1.6"/>
<circle cx="348.2" cy="490.61" r="1.6"/>
<circle cx="351.91" cy="490" r="1.6"/>
<circle cx="356.3" cy="490.32" r="1.6"/>
<circle cx="360.54" cy="490.51" r="1.6"/>
<circle cx="364.28" cy="490.67" r="1.6"/>
<circle cx="368.26" cy="490.33" r="1.6"/>
<circle cx="372.38" cy="490.24" r="1.6"/>
<circle cx="376.15" cy="490.39" r="1.6"/>
<circle cx="380.15" cy="490.63" r="1.6"/>
<circle cx="384.37" cy="490.34" r="1.6"/>
<circle cx="387.97" cy="490.23" r="1.6"/>
<circle cx="392.18" cy="490.36" r="1.6"/>
<circle cx="396.3" cy="490.59" r="1.6"/>
<circle cx="400.58" cy="490.31" r="1.6"/>
<circle cx="404.21" cy="490.41" r="1.6"/>
<circle cx="408.6" cy="490.21" r="1.6"/>
<circle cx="374.27" cy="493.86" r="1.6"/>
<circle cx="378.02" cy="493.52" r="1.6"/>
<circle cx="370.58" cy="493.87" r="1.6"/>
<circle cx="382.26" cy="493.37" r="1.6"/>
<circle cx="366.53" cy="493.78" r="1.6"/>
<circle cx="386.47" cy="493.99" r="1.6"/>
<circle cx="362.52" cy="493.59" r="1.6"/>
<circle cx="390.01" cy="493.5" r="1.6"/>
<circle cx="358.26" cy="493.65" r="1.6"/>
<circle cx="394.03" cy="493.42" r="1.6"/>
<circle cx="354.34" cy="493.72" r="1.6"/>
<circle cx="398.15" cy="493.99" r="1.6"/>
<circle cx="350.35" cy="493.32" r="1.6"/>
<circle cx="402.19" cy="493.84" r="1.6"/>
<circle cx="346.11" cy="493.78" r="1.6"/>
<circle cx="405.9" cy="493.51" r="1.6"/>
<circle cx="344.49" cy="497.02" r="1.6"/>
<circle cx="348.37" cy="496.75" r="1.6"/>
<circle cx="352.25" cy="497" r="1.6"/>
<circle cx="356.09" cy="497.07" r="1.6"/>
<circle cx="360.27" cy="497.31" r="1.6"/>
<circle cx="364.3" cy="496.9" r="1.6"/>
<circle cx="367.99" cy="496.72" r="1.6"/>
<circle cx="372.43" cy="496.69" r="1.6"/>
<circle cx="375.97" cy="496.73" r="1.6"/>
<circle cx="380.27" cy="497.19" r="1.6"/>
<circle cx="384.33" cy="497.18" r="1.6"/>
<circle cx="387.94" cy="496.62" r="1.6"/>
<circle cx="392.44" cy="496.84" r="1.6"/>
<circle cx="396.4" cy="496.86" r="1.6"/>
<circle cx="400.02" cy="496.8" r="1.6"/>
<circle cx="403.97" cy="497.25" r="1.6"/>
<circle cx="408.31" cy="496.86" r="1.6"/>
<circle cx="374.21" cy="500.21" r="1.6"/>
<circle cx="377.94" cy="500.56" r="1.6"/>
<circle cx="370.31" cy="500.61" r="1.6"/>
<circle cx="382.21" cy="500.37" r="1.6"/>
<circle cx="366.07" cy="499.97" r="1.6"/>
<circle cx="386.55" cy="500.53" r="1.6"/>
<circle cx="362.12" cy="500.56" r="1.6"/>
<circle cx="390.47" cy="500.15" r="1.6"/>
<circle cx="358.32" cy="500.61" r="1.6"/>
<circle cx="394.25" cy="500.6" r="1.6"/>
<circle cx="354.07" cy="500.21" r="1.6"/>
<circle cx="398.4" cy="500.09" r="1.6"/>
<circle cx="350.12" cy="500.55" r="1.6"/>
<circle cx="402.24" cy="500.49" r="1.6"/>
<circle cx="346.07" cy="500.06" r="1.6"/>
<circle cx="406.15" cy="500.07" r="1.6"/>
<circle cx="344.58" cy="503.46" r="1.6"/>
<circle cx="348.29" cy="503.34" r="1.6"/>
<circle cx="352.27" cy="503.53" r="1.6"/>
<circle cx="356.18" cy="503.3" r="1.6"/>
<circle cx="359.99" cy="503.84" r="1.6"/>
<circle cx="364.15" cy="503.43" r="1.6"/>
<circle cx="368.03" cy="503.46" r="1.6"/>
<circle cx="372.07" cy="503.28" r="1.6"/>
<circle cx="376.36" cy="503.5" r="1.6"/>
<circle cx="380.01" cy="503.75" r="1.6"/>
<circle cx="383.96" cy="503.45" r="1.6"/>
<circle cx="388.48" cy="503.35" r="1.6"/>
<circle cx="392.21" cy="503.84" r="1.6"/>
<circle cx="396.46" cy="503.37" r="1.6"/>
<circle cx="400.15" cy="503.76" r="1.6"/>
<circle cx="404.16" cy="503.93" r="1.6"/>
<circle cx="408.05" cy="503.92" r="1.6"/>
<circle cx="374.25" cy="506.74" r="1.6"/>
<circle cx="378.22" cy="506.67" r="1.6"/>
<circle cx="370.39" cy="506.76" r="1.6"/>
<circle cx="382.53" cy="506.99" r="1.6"/>
<circle cx="366.16" cy="506.75" r="1.6"/>
<circle cx="386.33" cy="506.73" r="1.6"/>
<circle cx="362.51" cy="506.66" r="1.6"/>
<circle cx="390.26" cy="506.96" r="1.6"/>
<circle cx="358.09" cy="507.12" r="1.6"/>
<circle cx="394.17" cy="507.04" r="1.6"/>
<circle cx="354.3" cy="506.8" r="1.6"/>
<circle cx="398.17" cy="506.64" r="1.6"/>
<circle cx="350.02" cy="507.17" r="1.6"/>
<circle cx="402.12" cy="507.04" r="1.6"/>
<circle cx="345.98" cy="506.97" r="1.6"/>
<circle cx="406.15" cy="506.93" r="1.6"/>
<circle cx="344.11" cy="509.95" r="1.6"/>
<circle cx="348.12" cy="510.06" r="1.6"/>
<circle cx="351.99" cy="510.4" r="1.6"/>
<circle cx="356.1" cy="510.18" r="1.6"/>
<circle cx="360.54" cy="510.44" r="1.6"/>
<circle cx="364.52" cy="510.5" r="1.6"/>
<circle cx="367.99" cy="510.09" r="1.6"/>
<circle cx="371.92" cy="510.38" r="1.6"/>
<circle cx="376.36" cy="510.15" r="1.6"/>
<circle cx="380.19" cy="510.36" r="1.6"/>
<circle cx="384.39" cy="510.07" r="1.6"/>
<circle cx="388.49" cy="510.15" r="1.6"/>
<circle cx="392.34" cy="510.03" r="1.6"/>
<circle cx="395.98" cy="510.54" r="1.6"/>
<circle cx="400.41" cy="510.4" r="1.6"/>
<circle cx="403.93" cy="509.93" r="1.6"/>
<circle cx="408.01" cy="510.04" r="1.6"/>
<circle cx="374.11" cy="513.49" r="1.6"/>
<circle cx="377.93" cy="513.44" r="1.6"/>
<circle cx="370.35" cy="513.35" r="1.6"/>
<circle cx="382.49" cy="513.62" r="1.6"/>
<circle cx="366.4" cy="513.4" r="1.6"/>
<circle cx="386.2" cy="513.7" r="1.6"/>
<circle cx="362.14" cy="513.22" r="1.6"/>
<circle cx="390.48" cy="513.76" r="1.6"/>
<circle cx="358.1" cy="513.25" r="1.6"/>
<circle cx="394.5" cy="513.65" r="1.6"/>
<circle cx="353.93" cy="513.39" r="1.6"/>
<circle cx="397.98" cy="513.78" r="1.6"/>
<circle cx="350.05" cy="513.86" r="1.6"/>
<circle cx="402.42" cy="513.28" r="1.6"/>
<circle cx="346.39" cy="513.5" r="1.6"/>
<circle cx="406.42" cy="513.8" r="1.6"/>
<circle cx="344.1" cy="516.61" r="1.6"/>
<circle cx="348.56" cy="516.84" r="1.6"/>
<circle cx="352.55" cy="517.03" r="1.6"/>
<circle cx="356.42" cy="517.12" r="1.6"/>
<circle cx="360.34" cy="516.86" r="1.6"/>
<circle cx="363.94" cy="517.03" r="1.6"/>
<circle cx="368.2" cy="516.9" r="1.6"/>
<circle cx="372.55" cy="516.63" r="1.6"/>
<circle cx="376.43" cy="516.57" r="1.6"/>
<circle cx="380.39" cy="517.11" r="1.6"/>
<circle cx="384.08" cy="516.93" r="1.6"/>
<circle cx="388.58" cy="516.99" r="1.6"/>
<circle cx="392.28" cy="516.72" r="1.6"/>
<circle cx="395.94" cy="516.79" r="1.6"/>
<circle cx="400.19" cy="516.68" r="1.6"/>
<circle cx="404.12" cy="516.64" r="1.6"/>
<circle cx="408.39" cy="517.01" r="1.6"/>
<circle cx="374.07" cy="520.03" r="1.6"/>
<circle cx="378.26" cy="520.18" r="1.6"/>
<circle cx="370.56" cy="520.11" r="1.6"/>
<circle cx="382.11" cy="520.48" r="1.6"/>
<circle cx="366" cy="520.26" r="1.6"/>
<circle cx="386.13" cy="520.44" r="1.6"/>
<circle cx="362.28" cy="520.4" r="1.6"/>
<circle cx="390.02" cy="520.33" r="1.6"/>
<circle cx="358.32" cy="520.19" r="1.6"/>
<circle cx="394.44" cy="520.45" r="1.6"/>
<circle cx="353.98" cy="520.07" r="1.6"/>
<circle cx="398.15" cy="520.01" r="1.6"/>
<circle cx="349.94" cy="520.06" r="1.6"/>
<circle cx="402.04" cy="520.36" r="1.6"/>
<circle cx="346.21" cy="519.94" r="1.6"/>
<circle cx="406.13" cy="520.19" r="1.6"/>
<circle cx="344.15" cy="523.3" r="1.6"/>
<circle cx="347.95" cy="523.19" r="1.6"/>
<circle cx="352.59" cy="523.71" r="1.6"/>
<circle cx="355.96" cy="523.69" r="1.6"/>
<circle cx="360.59" cy="523.58" r="1.6"/>
<circle cx="363.98" cy="523.53" r="1.6"/>
<circle cx="368.2" cy="523.32" r="1.6"/>
<circle cx="372.28" cy="523.19" r="1.6"/>
<circle cx="376.54" cy="523.64" r="1.6"/>
<circle cx="380.34" cy="523.84" r="1.6"/>
<circle cx="384.36" cy="523.36" r="1.6"/>
<circle cx="388.07" cy="523.28" r="1.6"/>
<circle cx="391.92" cy="523.73" r="1.6"/>
<circle cx="396.49" cy="523.39" r="1.6"/>
<circle cx="400.03" cy="523.63" r="1.6"/>
<circle cx="404.49" cy="523.83" r="1.6"/>
<circle cx="408.02" cy="523.73" r="1.6"/>
<circle cx="374.48" cy="527.03" r="1.6"/>
<circle cx="378.13" cy="526.64" r="1.6"/>
<circle cx="370.48" cy="526.73" r="1.6"/>
<circle cx="382.16" cy="526.89" r="1.6"/>
<circle cx="366.16" cy="527.09" r="1.6"/>
<circle cx="386.07" cy="526.54" r="1.6"/>
<circle cx="362.3" cy="526.95" r="1.6"/>
<circle cx="390.47" cy="527" r="1.6"/>
<circle cx="358.53" cy="527.17" r="1.6"/>
<circle cx="394.25" cy="526.86" r="1.6"/>
<circle cx="354.01" cy="526.72" r="1.6"/>
<circle cx="398.31" cy="526.56" r="1.6"/>
<circle cx="350.38" cy="526.62" r="1.6"/>
<circle cx="402.21" cy="527.19" r="1.6"/>
<circle cx="345.96" cy="526.54" r="1.6"/>
<circle cx="406.21" cy="526.64" r="1.6"/>
<circle cx="344.41" cy="529.83" r="1.6"/>
<circle cx="348.49" cy="530.43" r="1.6"/>
<circle cx="352.45" cy="530.13" r="1.6"/>
<circle cx="356.1" cy="530.29" r="1.6"/>
<circle cx="360.26" cy="530.12" r="1.6"/>
<circle cx="364.14" cy="530.14" r="1.6"/>
<circle cx="368.37" cy="530.41" r="1.6"/>
<circle cx="372.53" cy="529.94" r="1.6"/>
<circle cx="376.11" cy="530.14" r="1.6"/>
<circle cx="380.29" cy="530.07" r="1.6"/>
<circle cx="384.04" cy="529.89" r="1.6"/>
<circle cx="388.13" cy="530.15" r="1.6"/>
<circle cx="392.58" cy="530.46" r="1.6"/>
<circle cx="396.51" cy="530.51" r="1.6"/>
<circle cx="400.57" cy="530.26" r="1.6"/>
<circle cx="404.47" cy="529.87" r="1.6"/>
<circle cx="408.37" cy="530.25" r="1.6"/>
<circle cx="374.11" cy="533.55" r="1.6"/>
<circle cx="378.57" cy="533.49" r="1.6"/>
<circle cx="370.35" cy="533.36" r="1.6"/>
<circle cx="382.14" cy="533.77" r="1.6"/>
<circle cx="365.92" cy="533.28" r="1.6"/>
<circle cx="386.38" cy="533.46" r="1.6"/>
<circle cx="361.96" cy="533.61" r="1.6"/>
<circle cx="390.16" cy="533.56" r="1.6"/>
<circle cx="358.19" cy="533.52" r="1.6"/>
<circle cx="394.3" cy="533.43" r="1.6"/>
<circle cx="353.98" cy="533.28" r="1.6"/>
<circle cx="398.52" cy="533.53" r="1.6"/>
<circle cx="349.98" cy="533.75" r="1.6"/>
<circle cx="402.08" cy="533.22" r="1.6"/>
<circle cx="346.27" cy="533.33" r="1.6"/>
<circle cx="406.24" cy="533.54" r="1.6"/>
<circle cx="338.01" cy="487.05" r="1.6"/>
<circle cx="414.03" cy="487.01" r="1.6"/>
<circle cx="338.26" cy="489.44" r="1.6"/>
<circle cx="414.24" cy="489.44" r="1.6"/>
<circle cx="338.16" cy="492.73" r="1.6"/>
<circle cx="414.34" cy="492.62" r="1.6"/>
<circle cx="338.38" cy="494.94" r="1.6"/>
<circle cx="414.64" cy="495.36" r="1.6"/>
<circle cx="337.92" cy="498.17" r="1.6"/>
<circle cx="414.22" cy="497.71" r="1.6"/>
<circle cx="338.52" cy="500.72" r="1.6"/>
<circle cx="414.49" cy="500.42" r="1.6"/>
<circle cx="338.39" cy="503.1" r="1.6"/>
<circle cx="414.12" cy="503.32" r="1.6"/>
<circle cx="337.86" cy="506.21" r="1.6"/>
<circle cx="414.1" cy="506.01" r="1.6"/>
<circle cx="338.35" cy="508.83" r="1.6"/>
<circle cx="414.57" cy="508.97" r="1.6"/>
<circle cx="338.46" cy="511.66" r="1.6"/>
<circle cx="414.59" cy="511.88" r="1.6"/>
<circle cx="337.97" cy="514.52" r="1.6"/>
<circle cx="414.19" cy="514.54" r="1.6"/>
<circle cx="338.33" cy="517.32" r="1.6"/>
<circle cx="414.04" cy="517" r="1.6"/>
<circle cx="338.37" cy="520.14" r="1.6"/>
<circle cx="414.46" cy="519.5" r="1.6"/>
<circle cx="338.27" cy="522.28" r="1.6"/>
<circle cx="414.33" cy="522.77" r="1.6"/>
<circle cx="337.93" cy="525.59" r="1.6"/>
<circle cx="414.42" cy="525.12" r="1.6"/>
<circle cx="337.99" cy="527.99" r="1.6"/>
<circle cx="414.54" cy="528.09" r="1.6"/>
<circle cx="337.93" cy="530.43" r="1.6"/>
<circle cx="414.03" cy="530.98" r="1.6"/>
<circle cx="337.98" cy="533.54" r="1.6"/>
<circle cx="414.15" cy="533.63" r="1.6"/>
<circle cx="339.62" cy="539.15" r="1.6"/>
<circle cx="343.96" cy="539.43" r="1.6"/>
<circle cx="347.83" cy="539.62" r="1.6"/>
<circle cx="352.01" cy="539.06" r="1.6"/>
<circle cx="355.59" cy="539.16" r="1.6"/>
<circle cx="359.7" cy="539.66" r="1.6"/>
<circle cx="363.91" cy="539.07" r="1.6"/>
<circle cx="367.48" cy="539.62" r="1.6"/>
<circle cx="371.83" cy="539.32" r="1.6"/>
<circle cx="375.68" cy="539.16" r="1.6"/>
<circle cx="379.94" cy="539.33" r="1.6"/>
<circle cx="383.96" cy="539.48" r="1.6"/>
<circle cx="387.4" cy="539.28" r="1.6"/>
<circle cx="391.5" cy="539.68" r="1.6"/>
<circle cx="395.76" cy="539.08" r="1.6"/>
<circle cx="399.47" cy="539.3" r="1.6"/>
<circle cx="403.68" cy="539.45" r="1.6"/>
<circle cx="407.62" cy="539.3" r="1.6"/>
<circle cx="411.35" cy="539.46" r="1.6"/>
<circle cx="372.13" cy="543.86" r="1.6"/>
<circle cx="376.22" cy="544.54" r="1.6"/>
<circle cx="367.93" cy="543.95" r="1.6"/>
<circle cx="380.37" cy="544.04" r="1.6"/>
<circle cx="364.09" cy="544.2" r="1.6"/>
<circle cx="384.08" cy="544.25" r="1.6"/>
<circle cx="360.27" cy="544.52" r="1.6"/>
<circle cx="388.59" cy="543.87" r="1.6"/>
<circle cx="356.29" cy="544.39" r="1.6"/>
<circle cx="392.51" cy="544.39" r="1.6"/>
<circle cx="358.79" cy="549.09" r="1.6"/>
<circle cx="362.6" cy="548.85" r="1.6"/>
<circle cx="366.91" cy="549.26" r="1.6"/>
<circle cx="371.01" cy="549.13" r="1.6"/>
<circle cx="374.56" cy="549.18" r="1.6"/>
<circle cx="378.87" cy="549.01" r="1.6"/>
<circle cx="382.79" cy="548.9" r="1.6"/>
<circle cx="386.74" cy="548.93" r="1.6"/>
<circle cx="390.39" cy="548.89" r="1.6"/>
<circle cx="373.53" cy="553.24" r="1.6"/>
<circle cx="377.64" cy="552.81" r="1.6"/>
<circle cx="369.47" cy="552.71" r="1.6"/>
<circle cx="381.54" cy="552.64" r="1.6"/>
<circle cx="365.31" cy="553.16" r="1.6"/>
<circle cx="385.62" cy="552.86" r="1.6"/>
<circle cx="367.7" cy="555.66" r="1.6"/>
<circle cx="371.42" cy="555.5" r="1.6"/>
<circle cx="375.51" cy="555.67" r="1.6"/>
<circle cx="379.81" cy="555.84" r="1.6"/>
<circle cx="383.96" cy="555.69" r="1.6"/>
<circle cx="374.44" cy="561.26" r="1.6"/>
<circle cx="377.86" cy="560.98" r="1.6"/>
<circle cx="370.21" cy="561.54" r="1.6"/>
<circle cx="382.05" cy="561.39" r="1.6"/>
<circle cx="366.1" cy="561.46" r="1.6"/>
<circle cx="385.85" cy="561.19" r="1.6"/>
<circle cx="362.43" cy="561.04" r="1.6"/>
<circle cx="389.98" cy="560.87" r="1.6"/>
<circle cx="371.42" cy="566.14" r="1.6"/>
<circle cx="375.79" cy="566.1" r="1.6"/>
<circle cx="379.58" cy="566.09" r="1.6"/>
<circle cx="373.82" cy="570.45" r="1.6"/>
<circle cx="377.85" cy="569.99" r="1.6"/>
<circle cx="369.91" cy="570.52" r="1.6"/>
<circle cx="381.82" cy="569.91" r="1.6"/>
<circle cx="460.6" cy="422.7" r="1.6"/>
<circle cx="460.6" cy="426.5" r="1.6"/>
<circle cx="456.5" cy="435.8" r="1.6"/>
<circle cx="460.6" cy="437.1" r="1.6"/>
<circle cx="463.5" cy="438.7" r="1.6"/>
<circle cx="460.6" cy="441" r="1.6"/>
<circle cx="460.6" cy="447.7" r="1.6"/>
<circle cx="455.4" cy="451.2" r="1.6"/>
<circle cx="464.8" cy="451.2" r="1.6"/>
<circle cx="460.6" cy="451.5" r="1.6"/>
<circle cx="457" cy="455" r="1.6"/>
<circle cx="460.6" cy="456.3" r="1.6"/>
<circle cx="463.5" cy="458.3" r="1.6"/>
<circle cx="457" cy="460.2" r="1.6"/>
<circle cx="462" cy="461.5" r="1.6"/>
<circle cx="456.2" cy="571.7" r="1.6"/>
<circle cx="462.9" cy="571.7" r="1.6"/>
<circle cx="459.6" cy="592.3" r="1.6"/>
<circle cx="464.2" cy="592.3" r="1.6"/>
<circle cx="446.77" cy="464.86" r="1.6"/>
<circle cx="450.44" cy="464.35" r="1.6"/>
<circle cx="454.33" cy="464.63" r="1.6"/>
<circle cx="458.81" cy="464.7" r="1.6"/>
<circle cx="462.85" cy="464.4" r="1.6"/>
<circle cx="466.43" cy="464.77" r="1.6"/>
<circle cx="470.65" cy="464.53" r="1.6"/>
<circle cx="459.48" cy="469.69" r="1.6"/>
<circle cx="463.04" cy="469.74" r="1.6"/>
<circle cx="455.03" cy="469.89" r="1.6"/>
<circle cx="467.23" cy="469.8" r="1.6"/>
<circle cx="430.17" cy="473.83" r="1.6"/>
<circle cx="434.07" cy="473.66" r="1.6"/>
<circle cx="438.4" cy="474.04" r="1.6"/>
<circle cx="442.44" cy="473.69" r="1.6"/>
<circle cx="446.18" cy="474.16" r="1.6"/>
<circle cx="449.98" cy="473.72" r="1.6"/>
<circle cx="453.86" cy="473.75" r="1.6"/>
<circle cx="458.29" cy="473.71" r="1.6"/>
<circle cx="462.32" cy="473.95" r="1.6"/>
<circle cx="466.13" cy="474.06" r="1.6"/>
<circle cx="470.14" cy="474.11" r="1.6"/>
<circle cx="474.17" cy="473.88" r="1.6"/>
<circle cx="478.27" cy="473.83" r="1.6"/>
<circle cx="482.25" cy="474.18" r="1.6"/>
<circle cx="486.29" cy="473.87" r="1.6"/>
<circle cx="458.19" cy="479.73" r="1.6"/>
<circle cx="461.97" cy="479.24" r="1.6"/>
<circle cx="454.02" cy="479.71" r="1.6"/>
<circle cx="465.74" cy="479.06" r="1.6"/>
<circle cx="449.98" cy="479.51" r="1.6"/>
<circle cx="470.19" cy="479.3" r="1.6"/>
<circle cx="446.34" cy="479.21" r="1.6"/>
<circle cx="474.18" cy="479.11" r="1.6"/>
<circle cx="441.67" cy="479.14" r="1.6"/>
<circle cx="477.69" cy="479.4" r="1.6"/>
<circle cx="433.49" cy="483.98" r="1.6"/>
<circle cx="437.76" cy="484.11" r="1.6"/>
<circle cx="441.2" cy="483.97" r="1.6"/>
<circle cx="445.62" cy="484.5" r="1.6"/>
<circle cx="449.21" cy="483.87" r="1.6"/>
<circle cx="453.64" cy="484.02" r="1.6"/>
<circle cx="457.79" cy="484.2" r="1.6"/>
<circle cx="461.55" cy="484.09" r="1.6"/>
<circle cx="465.66" cy="484.17" r="1.6"/>
<circle cx="469.33" cy="484.48" r="1.6"/>
<circle cx="473.18" cy="484.36" r="1.6"/>
<circle cx="477.15" cy="484.3" r="1.6"/>
<circle cx="481.38" cy="484.45" r="1.6"/>
<circle cx="485.14" cy="484.24" r="1.6"/>
<circle cx="489.39" cy="484.49" r="1.6"/>
<circle cx="458.81" cy="489.09" r="1.6"/>
<circle cx="462.31" cy="488.83" r="1.6"/>
<circle cx="454.33" cy="488.95" r="1.6"/>
<circle cx="466.31" cy="488.79" r="1.6"/>
<circle cx="450.68" cy="489.1" r="1.6"/>
<circle cx="470.36" cy="489.35" r="1.6"/>
<circle cx="446.3" cy="489.05" r="1.6"/>
<circle cx="474.26" cy="489.25" r="1.6"/>
<circle cx="442.76" cy="488.84" r="1.6"/>
<circle cx="478.68" cy="489.23" r="1.6"/>
<circle cx="438.35" cy="488.88" r="1.6"/>
<circle cx="482.49" cy="489.27" r="1.6"/>
<circle cx="434.26" cy="489.13" r="1.6"/>
<circle cx="486.57" cy="488.97" r="1.6"/>
<circle cx="432.56" cy="493.17" r="1.6"/>
<circle cx="436.3" cy="493.17" r="1.6"/>
<circle cx="440.4" cy="493.1" r="1.6"/>
<circle cx="444.75" cy="492.68" r="1.6"/>
<circle cx="448.75" cy="493.25" r="1.6"/>
<circle cx="452.36" cy="492.57" r="1.6"/>
<circle cx="456.23" cy="493.23" r="1.6"/>
<circle cx="460.16" cy="493.19" r="1.6"/>
<circle cx="464.26" cy="493.07" r="1.6"/>
<circle cx="468.22" cy="492.67" r="1.6"/>
<circle cx="472.63" cy="492.61" r="1.6"/>
<circle cx="476.39" cy="493.19" r="1.6"/>
<circle cx="480.65" cy="493.17" r="1.6"/>
<circle cx="484.84" cy="492.57" r="1.6"/>
<circle cx="488.31" cy="493.1" r="1.6"/>
<circle cx="456.68" cy="495.88" r="1.6"/>
<circle cx="460.55" cy="496.01" r="1.6"/>
<circle cx="452.5" cy="495.92" r="1.6"/>
<circle cx="464.21" cy="496.54" r="1.6"/>
<circle cx="448.42" cy="496.47" r="1.6"/>
<circle cx="468.28" cy="496.19" r="1.6"/>
<circle cx="444.3" cy="496.15" r="1.6"/>
<circle cx="472.33" cy="496.33" r="1.6"/>
<circle cx="440.3" cy="496.37" r="1.6"/>
<circle cx="476.55" cy="495.93" r="1.6"/>
<circle cx="436.45" cy="496.2" r="1.6"/>
<circle cx="480.84" cy="496.09" r="1.6"/>
<circle cx="432.35" cy="496.53" r="1.6"/>
<circle cx="484.82" cy="496.36" r="1.6"/>
<circle cx="428.39" cy="495.97" r="1.6"/>
<circle cx="488.39" cy="495.9" r="1.6"/>
<circle cx="424.23" cy="496.21" r="1.6"/>
<circle cx="492.49" cy="496.24" r="1.6"/>
<circle cx="428.15" cy="499.66" r="1.6"/>
<circle cx="432.38" cy="500.11" r="1.6"/>
<circle cx="436.28" cy="500.03" r="1.6"/>
<circle cx="440.38" cy="500.34" r="1.6"/>
<circle cx="444.51" cy="500.15" r="1.6"/>
<circle cx="448.18" cy="499.87" r="1.6"/>
<circle cx="452.19" cy="500.33" r="1.6"/>
<circle cx="456.17" cy="499.92" r="1.6"/>
<circle cx="460.19" cy="499.75" r="1.6"/>
<circle cx="464.6" cy="499.65" r="1.6"/>
<circle cx="468.33" cy="500.3" r="1.6"/>
<circle cx="472.08" cy="500.08" r="1.6"/>
<circle cx="476.16" cy="499.82" r="1.6"/>
<circle cx="480.04" cy="499.73" r="1.6"/>
<circle cx="484.49" cy="500.2" r="1.6"/>
<circle cx="488.54" cy="499.68" r="1.6"/>
<circle cx="492.39" cy="499.88" r="1.6"/>
<circle cx="458.35" cy="503.45" r="1.6"/>
<circle cx="462.12" cy="503.75" r="1.6"/>
<circle cx="453.9" cy="503.59" r="1.6"/>
<circle cx="466.5" cy="503.42" r="1.6"/>
<circle cx="450.31" cy="503.76" r="1.6"/>
<circle cx="470.06" cy="503.51" r="1.6"/>
<circle cx="446.42" cy="503.33" r="1.6"/>
<circle cx="474.4" cy="503.34" r="1.6"/>
<circle cx="442.27" cy="503.5" r="1.6"/>
<circle cx="478.37" cy="503.29" r="1.6"/>
<circle cx="438.34" cy="503.45" r="1.6"/>
<circle cx="482.06" cy="503.5" r="1.6"/>
<circle cx="434.09" cy="503.7" r="1.6"/>
<circle cx="486.23" cy="503.57" r="1.6"/>
<circle cx="430.27" cy="503.4" r="1.6"/>
<circle cx="490.05" cy="503.17" r="1.6"/>
<circle cx="428.55" cy="506.85" r="1.6"/>
<circle cx="432.27" cy="506.85" r="1.6"/>
<circle cx="436.47" cy="506.65" r="1.6"/>
<circle cx="440.02" cy="507.06" r="1.6"/>
<circle cx="444.22" cy="506.93" r="1.6"/>
<circle cx="448.48" cy="507.11" r="1.6"/>
<circle cx="452.51" cy="506.51" r="1.6"/>
<circle cx="456.17" cy="507.07" r="1.6"/>
<circle cx="460.47" cy="506.57" r="1.6"/>
<circle cx="464.01" cy="506.66" r="1.6"/>
<circle cx="467.97" cy="506.73" r="1.6"/>
<circle cx="472.46" cy="506.85" r="1.6"/>
<circle cx="476.22" cy="506.54" r="1.6"/>
<circle cx="480.18" cy="507.18" r="1.6"/>
<circle cx="484.39" cy="506.8" r="1.6"/>
<circle cx="488.23" cy="507.04" r="1.6"/>
<circle cx="492.43" cy="506.59" r="1.6"/>
<circle cx="458.38" cy="510.16" r="1.6"/>
<circle cx="462.26" cy="510.07" r="1.6"/>
<circle cx="454.16" cy="510.14" r="1.6"/>
<circle cx="466.17" cy="509.91" r="1.6"/>
<circle cx="450.04" cy="510.3" r="1.6"/>
<circle cx="469.94" cy="510.02" r="1.6"/>
<circle cx="446.4" cy="510.09" r="1.6"/>
<circle cx="474.13" cy="510.07" r="1.6"/>
<circle cx="442.48" cy="509.96" r="1.6"/>
<circle cx="478.35" cy="510.5" r="1.6"/>
<circle cx="438.04" cy="510.2" r="1.6"/>
<circle cx="482.45" cy="510.33" r="1.6"/>
<circle cx="434.16" cy="509.93" r="1.6"/>
<circle cx="486.21" cy="510.16" r="1.6"/>
<circle cx="430.4" cy="510.11" r="1.6"/>
<circle cx="490.19" cy="510.35" r="1.6"/>
<circle cx="428.47" cy="513.56" r="1.6"/>
<circle cx="432.17" cy="513.72" r="1.6"/>
<circle cx="436.55" cy="513.45" r="1.6"/>
<circle cx="440.58" cy="513.81" r="1.6"/>
<circle cx="444.16" cy="513.78" r="1.6"/>
<circle cx="448.13" cy="513.37" r="1.6"/>
<circle cx="452.43" cy="513.58" r="1.6"/>
<circle cx="456.27" cy="513.66" r="1.6"/>
<circle cx="460.53" cy="513.85" r="1.6"/>
<circle cx="463.92" cy="513.73" r="1.6"/>
<circle cx="468.22" cy="513.64" r="1.6"/>
<circle cx="472.49" cy="513.61" r="1.6"/>
<circle cx="476.23" cy="513.94" r="1.6"/>
<circle cx="480.21" cy="513.66" r="1.6"/>
<circle cx="484.26" cy="513.89" r="1.6"/>
<circle cx="488.37" cy="513.83" r="1.6"/>
<circle cx="492.18" cy="513.35" r="1.6"/>
<circle cx="458.38" cy="517.12" r="1.6"/>
<circle cx="462.44" cy="517.27" r="1.6"/>
<circle cx="453.98" cy="516.89" r="1.6"/>
<circle cx="465.95" cy="517.31" r="1.6"/>
<circle cx="449.97" cy="516.8" r="1.6"/>
<circle cx="470.43" cy="517.13" r="1.6"/>
<circle cx="445.94" cy="517.21" r="1.6"/>
<circle cx="474.4" cy="517.07" r="1.6"/>
<circle cx="441.94" cy="517.22" r="1.6"/>
<circle cx="478.19" cy="517.14" r="1.6"/>
<circle cx="438.6" cy="517.31" r="1.6"/>
<circle cx="482.51" cy="516.84" r="1.6"/>
<circle cx="434.13" cy="517.1" r="1.6"/>
<circle cx="485.9" cy="517.43" r="1.6"/>
<circle cx="430.09" cy="516.92" r="1.6"/>
<circle cx="490.12" cy="516.91" r="1.6"/>
<circle cx="428.5" cy="520.54" r="1.6"/>
<circle cx="432.26" cy="520.44" r="1.6"/>
<circle cx="435.94" cy="520.36" r="1.6"/>
<circle cx="440.51" cy="520.71" r="1.6"/>
<circle cx="444.5" cy="520.33" r="1.6"/>
<circle cx="448.04" cy="520.19" r="1.6"/>
<circle cx="452.28" cy="520.41" r="1.6"/>
<circle cx="456.22" cy="520.49" r="1.6"/>
<circle cx="460.31" cy="520.41" r="1.6"/>
<circle cx="464.46" cy="520.29" r="1.6"/>
<circle cx="468.54" cy="520.54" r="1.6"/>
<circle cx="471.94" cy="520.37" r="1.6"/>
<circle cx="476.27" cy="520.44" r="1.6"/>
<circle cx="480.3" cy="520.38" r="1.6"/>
<circle cx="484.09" cy="520.71" r="1.6"/>
<circle cx="488.1" cy="520.65" r="1.6"/>
<circle cx="492.46" cy="520.56" r="1.6"/>
<circle cx="458.22" cy="524.22" r="1.6"/>
<circle cx="462.21" cy="524.18" r="1.6"/>
<circle cx="453.94" cy="523.87" r="1.6"/>
<circle cx="466.35" cy="523.6" r="1.6"/>
<circle cx="450.5" cy="523.62" r="1.6"/>
<circle cx="470.32" cy="523.69" r="1.6"/>
<circle cx="446.55" cy="523.96" r="1.6"/>
<circle cx="474.46" cy="523.92" r="1.6"/>
<circle cx="442.37" cy="524.04" r="1.6"/>
<circle cx="478.11" cy="523.71" r="1.6"/>
<circle cx="438.49" cy="523.67" r="1.6"/>
<circle cx="482.54" cy="523.71" r="1.6"/>
<circle cx="433.97" cy="523.63" r="1.6"/>
<circle cx="486.45" cy="524.23" r="1.6"/>
<circle cx="430.19" cy="524.03" r="1.6"/>
<circle cx="490.08" cy="524.2" r="1.6"/>
<circle cx="428.38" cy="527.09" r="1.6"/>
<circle cx="431.94" cy="527.47" r="1.6"/>
<circle cx="435.93" cy="527.57" r="1.6"/>
<circle cx="440.11" cy="527.15" r="1.6"/>
<circle cx="444.31" cy="527.21" r="1.6"/>
<circle cx="448.29" cy="527.09" r="1.6"/>
<circle cx="452.54" cy="527.21" r="1.6"/>
<circle cx="456.49" cy="527.09" r="1.6"/>
<circle cx="460.46" cy="527.67" r="1.6"/>
<circle cx="464.17" cy="527.01" r="1.6"/>
<circle cx="468.17" cy="527.43" r="1.6"/>
<circle cx="472.06" cy="527.37" r="1.6"/>
<circle cx="475.97" cy="527.31" r="1.6"/>
<circle cx="480.41" cy="527.28" r="1.6"/>
<circle cx="484.38" cy="527.06" r="1.6"/>
<circle cx="488.48" cy="527.07" r="1.6"/>
<circle cx="492.55" cy="527.68" r="1.6"/>
<circle cx="458.56" cy="530.77" r="1.6"/>
<circle cx="462.1" cy="530.64" r="1.6"/>
<circle cx="454.43" cy="530.75" r="1.6"/>
<circle cx="466.55" cy="530.47" r="1.6"/>
<circle cx="450.24" cy="531" r="1.6"/>
<circle cx="470.32" cy="530.78" r="1.6"/>
<circle cx="445.96" cy="530.5" r="1.6"/>
<circle cx="474.09" cy="531.03" r="1.6"/>
<circle cx="442.49" cy="530.56" r="1.6"/>
<circle cx="478.55" cy="530.42" r="1.6"/>
<circle cx="438.32" cy="531.08" r="1.6"/>
<circle cx="482.14" cy="531.06" r="1.6"/>
<circle cx="434.36" cy="530.44" r="1.6"/>
<circle cx="486.13" cy="530.71" r="1.6"/>
<circle cx="430.07" cy="530.92" r="1.6"/>
<circle cx="490.03" cy="530.95" r="1.6"/>
<circle cx="428.11" cy="533.87" r="1.6"/>
<circle cx="432.29" cy="533.88" r="1.6"/>
<circle cx="436.29" cy="534.37" r="1.6"/>
<circle cx="440.32" cy="534.14" r="1.6"/>
<circle cx="443.92" cy="534.18" r="1.6"/>
<circle cx="447.97" cy="534.27" r="1.6"/>
<circle cx="451.99" cy="534.22" r="1.6"/>
<circle cx="456.15" cy="534.08" r="1.6"/>
<circle cx="460.36" cy="533.93" r="1.6"/>
<circle cx="464.02" cy="534.48" r="1.6"/>
<circle cx="468.13" cy="534.41" r="1.6"/>
<circle cx="472.51" cy="534.15" r="1.6"/>
<circle cx="476" cy="533.88" r="1.6"/>
<circle cx="480.52" cy="533.9" r="1.6"/>
<circle cx="484.25" cy="534.19" r="1.6"/>
<circle cx="487.98" cy="534.14" r="1.6"/>
<circle cx="492.01" cy="534.19" r="1.6"/>
<circle cx="458.25" cy="537.49" r="1.6"/>
<circle cx="462.04" cy="537.52" r="1.6"/>
<circle cx="454.04" cy="537.32" r="1.6"/>
<circle cx="466.07" cy="537.84" r="1.6"/>
<circle cx="450.25" cy="537.86" r="1.6"/>
<circle cx="469.91" cy="537.89" r="1.6"/>
<circle cx="446.24" cy="537.79" r="1.6"/>
<circle cx="474.3" cy="537.72" r="1.6"/>
<circle cx="442.06" cy="537.76" r="1.6"/>
<circle cx="478.01" cy="537.42" r="1.6"/>
<circle cx="437.92" cy="537.51" r="1.6"/>
<circle cx="482.26" cy="537.44" r="1.6"/>
<circle cx="434.52" cy="537.29" r="1.6"/>
<circle cx="486.3" cy="537.4" r="1.6"/>
<circle cx="430.32" cy="537.78" r="1.6"/>
<circle cx="490.4" cy="537.28" r="1.6"/>
<circle cx="428.07" cy="541.07" r="1.6"/>
<circle cx="432.59" cy="540.68" r="1.6"/>
<circle cx="436.33" cy="541.13" r="1.6"/>
<circle cx="440.47" cy="540.89" r="1.6"/>
<circle cx="444.47" cy="540.97" r="1.6"/>
<circle cx="448.54" cy="540.66" r="1.6"/>
<circle cx="452.56" cy="540.94" r="1.6"/>
<circle cx="456.18" cy="540.71" r="1.6"/>
<circle cx="460.07" cy="541.16" r="1.6"/>
<circle cx="464.38" cy="540.76" r="1.6"/>
<circle cx="468.14" cy="540.75" r="1.6"/>
<circle cx="472.04" cy="540.8" r="1.6"/>
<circle cx="476.13" cy="541.33" r="1.6"/>
<circle cx="480.6" cy="541.2" r="1.6"/>
<circle cx="484.24" cy="541" r="1.6"/>
<circle cx="488.45" cy="541.29" r="1.6"/>
<circle cx="492.43" cy="541.1" r="1.6"/>
<circle cx="421.79" cy="500.09" r="1.6"/>
<circle cx="499.04" cy="500.2" r="1.6"/>
<circle cx="421.71" cy="502.89" r="1.6"/>
<circle cx="498.69" cy="502.5" r="1.6"/>
<circle cx="422.33" cy="505.59" r="1.6"/>
<circle cx="498.97" cy="505.21" r="1.6"/>
<circle cx="422.23" cy="508.51" r="1.6"/>
<circle cx="499.08" cy="508.37" r="1.6"/>
<circle cx="422.23" cy="511.14" r="1.6"/>
<circle cx="498.86" cy="510.89" r="1.6"/>
<circle cx="422.23" cy="513.87" r="1.6"/>
<circle cx="499.06" cy="513.53" r="1.6"/>
<circle cx="422.32" cy="516.42" r="1.6"/>
<circle cx="499.11" cy="516.13" r="1.6"/>
<circle cx="422.33" cy="519.33" r="1.6"/>
<circle cx="498.63" cy="519.37" r="1.6"/>
<circle cx="421.81" cy="521.66" r="1.6"/>
<circle cx="498.77" cy="521.68" r="1.6"/>
<circle cx="421.99" cy="524.89" r="1.6"/>
<circle cx="498.93" cy="524.75" r="1.6"/>
<circle cx="421.92" cy="527.53" r="1.6"/>
<circle cx="499.01" cy="527.46" r="1.6"/>
<circle cx="422.31" cy="530.29" r="1.6"/>
<circle cx="498.73" cy="529.78" r="1.6"/>
<circle cx="422.11" cy="533.04" r="1.6"/>
<circle cx="498.69" cy="532.87" r="1.6"/>
<circle cx="422.24" cy="535.74" r="1.6"/>
<circle cx="498.45" cy="535.53" r="1.6"/>
<circle cx="421.66" cy="537.99" r="1.6"/>
<circle cx="499.02" cy="538.21" r="1.6"/>
<circle cx="422.07" cy="540.97" r="1.6"/>
<circle cx="498.68" cy="540.8" r="1.6"/>
<circle cx="459.9" cy="543.44" r="1.6"/>
<circle cx="464.08" cy="543.05" r="1.6"/>
<circle cx="455.71" cy="543.04" r="1.6"/>
<circle cx="468.14" cy="543.16" r="1.6"/>
<circle cx="452.11" cy="543.41" r="1.6"/>
<circle cx="471.73" cy="543.33" r="1.6"/>
<circle cx="447.68" cy="543.43" r="1.6"/>
<circle cx="475.78" cy="543.04" r="1.6"/>
<circle cx="444.32" cy="543.1" r="1.6"/>
<circle cx="479.81" cy="543.47" r="1.6"/>
<circle cx="440.08" cy="543.48" r="1.6"/>
<circle cx="483.93" cy="543.2" r="1.6"/>
<circle cx="436.32" cy="543.2" r="1.6"/>
<circle cx="488.34" cy="542.98" r="1.6"/>
<circle cx="432.23" cy="542.96" r="1.6"/>
<circle cx="492.02" cy="542.85" r="1.6"/>
<circle cx="427.77" cy="543.51" r="1.6"/>
<circle cx="495.97" cy="543.42" r="1.6"/>
<circle cx="439.83" cy="547.2" r="1.6"/>
<circle cx="443.72" cy="547.34" r="1.6"/>
<circle cx="448.25" cy="547.31" r="1.6"/>
<circle cx="451.91" cy="547.6" r="1.6"/>
<circle cx="456.28" cy="547.42" r="1.6"/>
<circle cx="459.7" cy="547.39" r="1.6"/>
<circle cx="463.96" cy="547.62" r="1.6"/>
<circle cx="467.9" cy="547.41" r="1.6"/>
<circle cx="472.09" cy="547.21" r="1.6"/>
<circle cx="476.02" cy="547.42" r="1.6"/>
<circle cx="480.29" cy="547.3" r="1.6"/>
<circle cx="457.5" cy="551.23" r="1.6"/>
<circle cx="461.29" cy="551.13" r="1.6"/>
<circle cx="453.73" cy="550.94" r="1.6"/>
<circle cx="465.56" cy="551.08" r="1.6"/>
<circle cx="449.87" cy="551.06" r="1.6"/>
<circle cx="469.77" cy="550.57" r="1.6"/>
<circle cx="445.48" cy="550.65" r="1.6"/>
<circle cx="473.92" cy="551.17" r="1.6"/>
<circle cx="441.35" cy="550.96" r="1.6"/>
<circle cx="477.65" cy="550.58" r="1.6"/>
<circle cx="437.52" cy="551.07" r="1.6"/>
<circle cx="481.7" cy="550.75" r="1.6"/>
<circle cx="443.68" cy="554.85" r="1.6"/>
<circle cx="447.53" cy="554.94" r="1.6"/>
<circle cx="451.83" cy="555.1" r="1.6"/>
<circle cx="455.71" cy="555.12" r="1.6"/>
<circle cx="459.42" cy="555.32" r="1.6"/>
<circle cx="463.65" cy="555.13" r="1.6"/>
<circle cx="467.34" cy="554.76" r="1.6"/>
<circle cx="471.55" cy="555.23" r="1.6"/>
<circle cx="475.71" cy="554.89" r="1.6"/>
<circle cx="456.5" cy="558.61" r="1.6"/>
<circle cx="461.01" cy="558.36" r="1.6"/>
<circle cx="452.92" cy="558.37" r="1.6"/>
<circle cx="464.62" cy="558.29" r="1.6"/>
<circle cx="448.61" cy="558.52" r="1.6"/>
<circle cx="469.08" cy="558.92" r="1.6"/>
<circle cx="444.53" cy="558.47" r="1.6"/>
<circle cx="473.06" cy="558.39" r="1.6"/>
<circle cx="440.62" cy="558.56" r="1.6"/>
<circle cx="476.48" cy="558.43" r="1.6"/>
<circle cx="442.28" cy="561.92" r="1.6"/>
<circle cx="446.67" cy="561.84" r="1.6"/>
<circle cx="450.14" cy="562.29" r="1.6"/>
<circle cx="454.32" cy="562.24" r="1.6"/>
<circle cx="458.45" cy="562.2" r="1.6"/>
<circle cx="462.22" cy="561.76" r="1.6"/>
<circle cx="466.53" cy="561.98" r="1.6"/>
<circle cx="470.39" cy="562.12" r="1.6"/>
<circle cx="474.53" cy="561.84" r="1.6"/>
<circle cx="457.4" cy="565.09" r="1.6"/>
<circle cx="461.52" cy="564.65" r="1.6"/>
<circle cx="453.59" cy="564.63" r="1.6"/>
<circle cx="465.69" cy="564.48" r="1.6"/>
<circle cx="459.78" cy="567.45" r="1.6"/>
</g>
<rect x="82.1" y="179.3" width="67.3" height="29.6" fill="none" stroke="#000" stroke-width="1.5"/>
<line x1="82.1" y1="197.7" x2="149.4" y2="197.7" stroke="#000" stroke-width="1.5"/>
<line x1="98.7" y1="147.2" x2="132.7" y2="147.2" stroke="#000" stroke-width="1.7"/>
<line x1="98.7" y1="242.9" x2="132.7" y2="242.9" stroke="#000" stroke-width="1.7"/>
<rect x="165.7" y="195" width="67.5" height="27.7" fill="none" stroke="#000" stroke-width="1.5"/>
<line x1="165.7" y1="210.5" x2="233.2" y2="210.5" stroke="#000" stroke-width="1.5"/>
<line x1="182.4" y1="167.4" x2="216.4" y2="167.4" stroke="#000" stroke-width="1.7"/>
<line x1="182.4" y1="276" x2="216.4" y2="276" stroke="#000" stroke-width="1.7"/>
<rect x="342" y="164.6" width="68.4" height="39.4" fill="none" stroke="#000" stroke-width="1.5"/>
<line x1="342" y1="183.6" x2="410.4" y2="183.6" stroke="#000" stroke-width="1.5"/>
<line x1="359.2" y1="127.2" x2="393.2" y2="127.2" stroke="#000" stroke-width="1.7"/>
<line x1="359.2" y1="275.6" x2="393.2" y2="275.6" stroke="#000" stroke-width="1.7"/>
<rect x="426.8" y="175" width="68.2" height="40.8" fill="none" stroke="#000" stroke-width="1.5"/>
<line x1="426.8" y1="195.6" x2="495" y2="195.6" stroke="#000" stroke-width="1.5"/>
<line x1="443.8" y1="137.5" x2="477.8" y2="137.5" stroke="#000" stroke-width="1.7"/>
<line x1="443.8" y1="274.6" x2="477.8" y2="274.6" stroke="#000" stroke-width="1.7"/>
<rect x="82" y="464.4" width="67.4" height="33.6" fill="none" stroke="#000" stroke-width="1.5"/>
<line x1="82" y1="484.3" x2="149.4" y2="484.3" stroke="#000" stroke-width="1.5"/>
<line x1="98.7" y1="429.8" x2="132.7" y2="429.8" stroke="#000" stroke-width="1.7"/>
<line x1="98.7" y1="537.2" x2="132.7" y2="537.2" stroke="#000" stroke-width="1.7"/>
<rect x="165.8" y="481.5" width="67.4" height="24.2" fill="none" stroke="#000" stroke-width="1.5"/>
<line x1="165.8" y1="493.3" x2="233.2" y2="493.3" stroke="#000" stroke-width="1.5"/>
<line x1="182.5" y1="455.8" x2="216.5" y2="455.8" stroke="#000" stroke-width="1.7"/>
<line x1="182.5" y1="545.1" x2="216.5" y2="545.1" stroke="#000" stroke-width="1.7"/>
<rect x="341.8" y="493" width="68.2" height="32.5" fill="none" stroke="#000" stroke-width="1.5"/>
<line x1="341.8" y1="510.1" x2="410" y2="510.1" stroke="#000" stroke-width="1.5"/>
<line x1="359" y1="452.8" x2="393" y2="452.8" stroke="#000" stroke-width="1.7"/>
<line x1="359" y1="587.6" x2="393" y2="587.6" stroke="#000" stroke-width="1.7"/>
<rect x="426.2" y="503.4" width="67.5" height="28.4" fill="none" stroke="#000" stroke-width="1.5"/>
<line x1="426.2" y1="520.1" x2="493.7" y2="520.1" stroke="#000" stroke-width="1.5"/>
<line x1="443.2" y1="466.6" x2="477.2" y2="466.6" stroke="#000" stroke-width="1.7"/>
<line x1="443.2" y1="574" x2="477.2" y2="574" stroke="#000" stroke-width="1.7"/>
</g>
<rect x="1" y="1" width="518" height="632" fill="none" stroke="#000" stroke-width="2"/>
<rect x="0" y="631.5" width="520" height="2.5" fill="#000"/>
</svg>
</body></html>
